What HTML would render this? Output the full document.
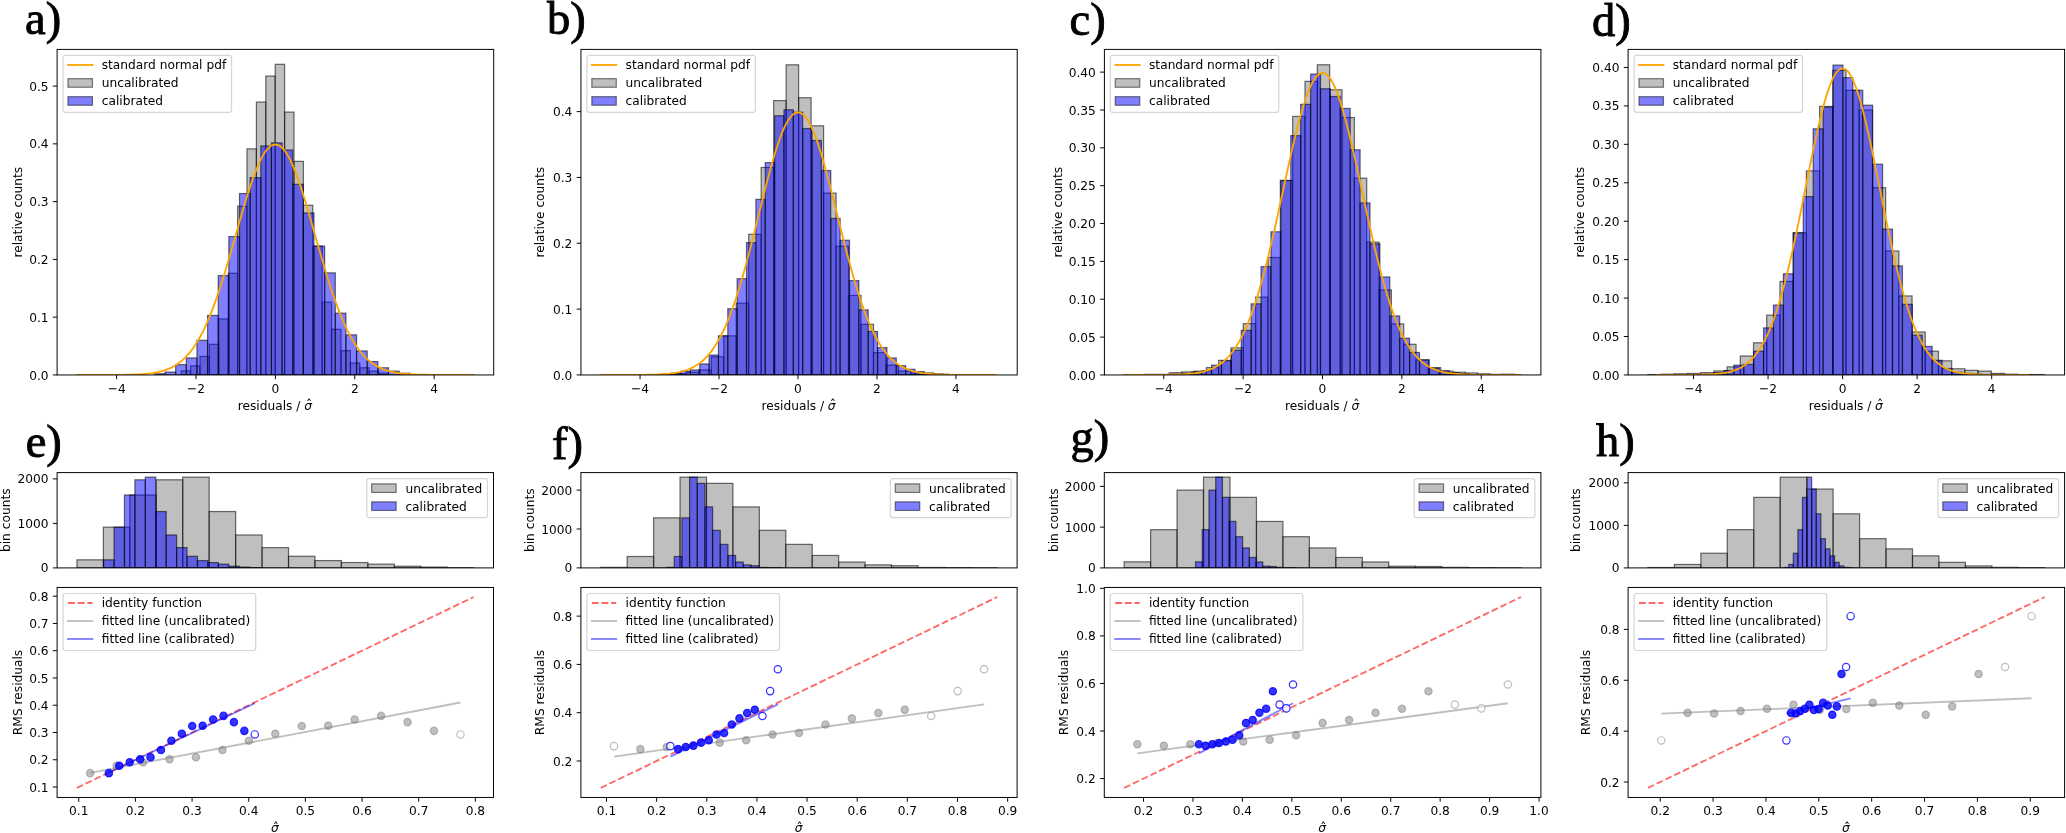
<!DOCTYPE html>
<html lang="en"><head><meta charset="utf-8"><title>Calibration figure</title>
<style>html,body{margin:0;padding:0;background:#fff}svg{display:block;filter:blur(0.55px)}text{font-family:"DejaVu Sans", "Liberation Sans", sans-serif;fill:#000}.ser{font-family:"Liberation Serif", "DejaVu Serif", serif;stroke:#000;stroke-width:0.9px}</style>
</head><body>
<svg width="2066" height="833" viewBox="0 0 2066 833">
<rect width="2066" height="833" fill="#fff"/>
<g id="top0">
<clipPath id="ct0"><rect x="57.1" y="49.4" width="436.6" height="325.55"/></clipPath>
<g clip-path="url(#ct0)">
<g fill="#808080" fill-opacity="0.5" stroke="#000" stroke-opacity="0.56" stroke-width="1.22">
<rect x="181.2" y="370.91" width="9.4" height="4.04"/>
<rect x="190.6" y="365.88" width="9.4" height="9.07"/>
<rect x="200" y="356.46" width="9.4" height="18.49"/>
<rect x="209.4" y="344.33" width="9.4" height="30.62"/>
<rect x="218.8" y="318.91" width="9.4" height="56.04"/>
<rect x="228.2" y="273.27" width="9.4" height="101.68"/>
<rect x="237.6" y="206.25" width="9.4" height="168.7"/>
<rect x="247" y="148.88" width="9.4" height="226.07"/>
<rect x="256.4" y="102.03" width="9.4" height="272.92"/>
<rect x="265.8" y="76.09" width="9.4" height="298.86"/>
<rect x="275.2" y="64.31" width="9.4" height="310.64"/>
<rect x="284.6" y="112.08" width="9.4" height="262.87"/>
<rect x="294" y="161.36" width="9.4" height="213.59"/>
<rect x="303.4" y="205.27" width="9.4" height="169.68"/>
<rect x="312.8" y="246.12" width="9.4" height="128.83"/>
<rect x="322.2" y="302.16" width="9.4" height="72.79"/>
<rect x="331.6" y="329.31" width="9.4" height="45.64"/>
<rect x="341" y="350.69" width="9.4" height="24.26"/>
<rect x="350.4" y="362.99" width="9.4" height="11.96"/>
<rect x="359.8" y="367.79" width="9.4" height="7.16"/>
<rect x="369.2" y="371.14" width="9.4" height="3.81"/>
<rect x="378.6" y="373.22" width="9.4" height="1.73"/>
</g>
<g fill="#0000ff" fill-opacity="0.5" stroke="#000" stroke-opacity="0.56" stroke-width="1.22">
<rect x="154.4" y="373.79" width="10.64" height="1.16"/>
<rect x="165.04" y="372.06" width="10.64" height="2.89"/>
<rect x="175.68" y="364.67" width="10.64" height="10.28"/>
<rect x="186.32" y="357.96" width="10.64" height="16.99"/>
<rect x="196.96" y="340.29" width="10.64" height="34.66"/>
<rect x="207.6" y="315.44" width="10.64" height="59.51"/>
<rect x="218.24" y="275.58" width="10.64" height="99.37"/>
<rect x="228.88" y="236.58" width="10.64" height="138.37"/>
<rect x="239.52" y="193.54" width="10.64" height="181.41"/>
<rect x="250.16" y="177.66" width="10.64" height="197.29"/>
<rect x="260.8" y="146" width="10.64" height="228.95"/>
<rect x="271.44" y="142.88" width="10.64" height="232.07"/>
<rect x="282.08" y="150.04" width="10.64" height="224.91"/>
<rect x="292.72" y="184.36" width="10.64" height="190.59"/>
<rect x="303.36" y="212.95" width="10.64" height="162"/>
<rect x="314" y="246.12" width="10.64" height="128.83"/>
<rect x="324.64" y="272.87" width="10.64" height="102.08"/>
<rect x="335.28" y="313.13" width="10.64" height="61.82"/>
<rect x="345.92" y="334.86" width="10.64" height="40.09"/>
<rect x="356.56" y="350.97" width="10.64" height="23.98"/>
<rect x="367.2" y="361.55" width="10.64" height="13.4"/>
<rect x="377.84" y="367.79" width="10.64" height="7.16"/>
<rect x="388.48" y="371.14" width="10.64" height="3.81"/>
<rect x="399.12" y="373.22" width="10.64" height="1.73"/>
</g>
<path d="M76.95 374.95 L78.93 374.95 L80.91 374.95 L82.9 374.95 L84.88 374.95 L86.87 374.95 L88.85 374.95 L90.84 374.95 L92.82 374.94 L94.81 374.94 L96.79 374.94 L98.78 374.94 L100.76 374.94 L102.74 374.93 L104.73 374.93 L106.71 374.92 L108.7 374.92 L110.68 374.91 L112.67 374.9 L114.65 374.89 L116.64 374.87 L118.62 374.86 L120.61 374.84 L122.59 374.81 L124.57 374.78 L126.56 374.75 L128.54 374.7 L130.53 374.66 L132.51 374.6 L134.5 374.53 L136.48 374.45 L138.47 374.35 L140.45 374.24 L142.44 374.11 L144.42 373.95 L146.4 373.78 L148.39 373.57 L150.37 373.34 L152.36 373.06 L154.34 372.75 L156.33 372.39 L158.31 371.98 L160.3 371.51 L162.28 370.98 L164.27 370.38 L166.25 369.7 L168.23 368.93 L170.22 368.07 L172.2 367.1 L174.19 366.02 L176.17 364.82 L178.16 363.49 L180.14 362.01 L182.13 360.38 L184.11 358.58 L186.1 356.61 L188.08 354.46 L190.06 352.1 L192.05 349.54 L194.03 346.76 L196.02 343.76 L198 340.52 L199.99 337.04 L201.97 333.32 L203.96 329.34 L205.94 325.11 L207.93 320.62 L209.91 315.87 L211.89 310.87 L213.88 305.62 L215.86 300.12 L217.85 294.4 L219.83 288.45 L221.82 282.29 L223.8 275.95 L225.79 269.43 L227.77 262.76 L229.76 255.97 L231.74 249.09 L233.72 242.14 L235.71 235.16 L237.69 228.17 L239.68 221.22 L241.66 214.35 L243.65 207.59 L245.63 200.97 L247.62 194.55 L249.6 188.36 L251.59 182.44 L253.57 176.82 L255.55 171.55 L257.54 166.66 L259.52 162.19 L261.51 158.16 L263.49 154.61 L265.48 151.56 L267.46 149.03 L269.45 147.05 L271.43 145.62 L273.42 144.76 L275.4 144.47 L277.38 144.76 L279.37 145.62 L281.35 147.05 L283.34 149.03 L285.32 151.56 L287.31 154.61 L289.29 158.16 L291.28 162.19 L293.26 166.66 L295.25 171.55 L297.23 176.82 L299.21 182.44 L301.2 188.36 L303.18 194.55 L305.17 200.97 L307.15 207.59 L309.14 214.35 L311.12 221.22 L313.11 228.17 L315.09 235.16 L317.08 242.14 L319.06 249.09 L321.04 255.97 L323.03 262.76 L325.01 269.43 L327 275.95 L328.98 282.29 L330.97 288.45 L332.95 294.4 L334.94 300.12 L336.92 305.62 L338.91 310.87 L340.89 315.87 L342.87 320.62 L344.86 325.11 L346.84 329.34 L348.83 333.32 L350.81 337.04 L352.8 340.52 L354.78 343.76 L356.77 346.76 L358.75 349.54 L360.74 352.1 L362.72 354.46 L364.7 356.61 L366.69 358.58 L368.67 360.38 L370.66 362.01 L372.64 363.49 L374.63 364.82 L376.61 366.02 L378.6 367.1 L380.58 368.07 L382.57 368.93 L384.55 369.7 L386.53 370.38 L388.52 370.98 L390.5 371.51 L392.49 371.98 L394.47 372.39 L396.46 372.75 L398.44 373.06 L400.43 373.34 L402.41 373.57 L404.4 373.78 L406.38 373.95 L408.36 374.11 L410.35 374.24 L412.33 374.35 L414.32 374.45 L416.3 374.53 L418.29 374.6 L420.27 374.66 L422.26 374.7 L424.24 374.75 L426.23 374.78 L428.21 374.81 L430.19 374.84 L432.18 374.86 L434.16 374.87 L436.15 374.89 L438.13 374.9 L440.12 374.91 L442.1 374.92 L444.09 374.92 L446.07 374.93 L448.06 374.93 L450.04 374.94 L452.02 374.94 L454.01 374.94 L455.99 374.94 L457.98 374.94 L459.96 374.95 L461.95 374.95 L463.93 374.95 L465.92 374.95 L467.9 374.95 L469.89 374.95 L471.87 374.95 L473.85 374.95" fill="none" stroke="#ffa500" stroke-width="1.83" stroke-linejoin="round" stroke-linecap="square"/>
</g>
<rect x="57.1" y="49.4" width="436.6" height="325.55" fill="none" stroke="#000" stroke-width="0.98"/>
<text transform="translate(116.64 392.79) scale(1 1.05)" font-size="12.22" text-anchor="middle">−4</text>
<text transform="translate(196.02 392.79) scale(1 1.05)" font-size="12.22" text-anchor="middle">−2</text>
<text transform="translate(275.4 392.79) scale(1 1.05)" font-size="12.22" text-anchor="middle">0</text>
<text transform="translate(354.78 392.79) scale(1 1.05)" font-size="12.22" text-anchor="middle">2</text>
<text transform="translate(434.16 392.79) scale(1 1.05)" font-size="12.22" text-anchor="middle">4</text>
<path d="M116.64 374.95v4.28M196.02 374.95v4.28M275.4 374.95v4.28M354.78 374.95v4.28M434.16 374.95v4.28" stroke="#000" stroke-width="0.98" fill="none"/>
<text transform="translate(48.54 379.53) scale(1 1.05)" font-size="12.22" text-anchor="end">0.0</text>
<text transform="translate(48.54 321.76) scale(1 1.05)" font-size="12.22" text-anchor="end">0.1</text>
<text transform="translate(48.54 263.99) scale(1 1.05)" font-size="12.22" text-anchor="end">0.2</text>
<text transform="translate(48.54 206.21) scale(1 1.05)" font-size="12.22" text-anchor="end">0.3</text>
<text transform="translate(48.54 148.44) scale(1 1.05)" font-size="12.22" text-anchor="end">0.4</text>
<text transform="translate(48.54 90.67) scale(1 1.05)" font-size="12.22" text-anchor="end">0.5</text>
<path d="M57.1 374.95h-4.28M57.1 317.18h-4.28M57.1 259.4h-4.28M57.1 201.63h-4.28M57.1 143.86h-4.28M57.1 86.09h-4.28" stroke="#000" stroke-width="0.98" fill="none"/>
<text transform="translate(237.75 410.1) scale(1 1.05)" font-size="12.22" text-anchor="start">residuals / </text>
<text transform="translate(304.15 410.1) scale(1 1.05)" font-size="12.22" font-style="italic">σ</text>
<text transform="translate(309.04 409.37) scale(1 1.05)" font-size="12.22" text-anchor="middle">ˆ</text>
<text transform="translate(21.5 212.17) rotate(-90) scale(1 1.05)" font-size="12.22" text-anchor="middle">relative counts</text>
<rect x="63.1" y="55.45" width="168.4" height="57" rx="2.4" fill="#fff" fill-opacity="0.8" stroke="#ccc" stroke-opacity="0.8" stroke-width="1.22"/>
<path d="M67.99 64.95h24.44" stroke="#ffa500" stroke-opacity="1" stroke-width="1.83" stroke-linecap="square" fill="none"/>
<text transform="translate(101.71 69.35) scale(1 1.05)" font-size="12.22" text-anchor="start">standard normal pdf</text>
<rect x="67.99" y="78.67" width="24.44" height="8.56" fill="#808080" fill-opacity="0.5" stroke="#000" stroke-opacity="0.5" stroke-width="1.22"/>
<text transform="translate(101.71 87.35) scale(1 1.05)" font-size="12.22" text-anchor="start">uncalibrated</text>
<rect x="67.99" y="96.67" width="24.44" height="8.56" fill="#0000ff" fill-opacity="0.5" stroke="#000" stroke-opacity="0.5" stroke-width="1.22"/>
<text transform="translate(101.71 105.35) scale(1 1.05)" font-size="12.22" text-anchor="start">calibrated</text>
<text x="25" y="33.7" font-size="46.5" text-anchor="start" class="ser">a)</text>
</g>
<g id="top1">
<clipPath id="ct1"><rect x="580.95" y="49.4" width="436.25" height="325.55"/></clipPath>
<g clip-path="url(#ct1)">
<g fill="#808080" fill-opacity="0.5" stroke="#000" stroke-opacity="0.56" stroke-width="1.22">
<rect x="661.34" y="374.29" width="12.48" height="0.66"/>
<rect x="673.82" y="373.63" width="12.48" height="1.32"/>
<rect x="686.3" y="372.32" width="12.48" height="2.63"/>
<rect x="698.78" y="369.95" width="12.48" height="5"/>
<rect x="711.26" y="356.78" width="12.48" height="18.17"/>
<rect x="723.74" y="335.84" width="12.48" height="39.11"/>
<rect x="736.22" y="303.19" width="12.48" height="71.76"/>
<rect x="748.7" y="234.26" width="12.48" height="140.69"/>
<rect x="761.18" y="167.44" width="12.48" height="207.51"/>
<rect x="773.66" y="100.62" width="12.48" height="274.33"/>
<rect x="786.14" y="64.81" width="12.48" height="310.14"/>
<rect x="798.62" y="97.72" width="12.48" height="277.23"/>
<rect x="811.1" y="125.83" width="12.48" height="249.12"/>
<rect x="823.58" y="193.12" width="12.48" height="181.83"/>
<rect x="836.06" y="246.24" width="12.48" height="128.71"/>
<rect x="848.54" y="295.49" width="12.48" height="79.46"/>
<rect x="861.02" y="324.32" width="12.48" height="50.63"/>
<rect x="873.5" y="352.7" width="12.48" height="22.25"/>
<rect x="885.98" y="365.14" width="12.48" height="9.81"/>
<rect x="898.46" y="371.2" width="12.48" height="3.75"/>
<rect x="910.94" y="372.97" width="12.48" height="1.98"/>
<rect x="923.42" y="373.63" width="12.48" height="1.32"/>
<rect x="935.9" y="374.29" width="12.48" height="0.66"/>
</g>
<g fill="#0000ff" fill-opacity="0.5" stroke="#000" stroke-opacity="0.56" stroke-width="1.22">
<rect x="662.28" y="374.29" width="9.36" height="0.66"/>
<rect x="671.64" y="372.97" width="9.36" height="1.98"/>
<rect x="681" y="371.2" width="9.36" height="3.75"/>
<rect x="690.36" y="369.95" width="9.36" height="5"/>
<rect x="699.72" y="363.96" width="9.36" height="10.99"/>
<rect x="709.08" y="355.07" width="9.36" height="19.88"/>
<rect x="718.44" y="335.84" width="9.36" height="39.11"/>
<rect x="727.8" y="308.72" width="9.36" height="66.23"/>
<rect x="737.16" y="278.7" width="9.36" height="96.25"/>
<rect x="746.52" y="242.62" width="9.36" height="132.33"/>
<rect x="755.88" y="199.37" width="9.36" height="175.58"/>
<rect x="765.24" y="162.63" width="9.36" height="212.32"/>
<rect x="774.6" y="115.76" width="9.36" height="259.19"/>
<rect x="783.96" y="109.77" width="9.36" height="265.18"/>
<rect x="793.32" y="112.14" width="9.36" height="262.81"/>
<rect x="802.68" y="128.53" width="9.36" height="246.42"/>
<rect x="812.04" y="140.51" width="9.36" height="234.44"/>
<rect x="821.4" y="170.53" width="9.36" height="204.42"/>
<rect x="830.76" y="218.46" width="9.36" height="156.49"/>
<rect x="840.12" y="240.25" width="9.36" height="134.7"/>
<rect x="849.48" y="280.61" width="9.36" height="94.34"/>
<rect x="858.84" y="309.91" width="9.36" height="65.04"/>
<rect x="868.2" y="331.5" width="9.36" height="43.45"/>
<rect x="877.56" y="347.63" width="9.36" height="27.32"/>
<rect x="886.92" y="357.96" width="9.36" height="16.99"/>
<rect x="896.28" y="365.67" width="9.36" height="9.28"/>
<rect x="905.64" y="369.29" width="9.36" height="5.66"/>
<rect x="915" y="371.66" width="9.36" height="3.29"/>
<rect x="924.36" y="372.97" width="9.36" height="1.98"/>
<rect x="933.72" y="373.96" width="9.36" height="0.99"/>
</g>
<path d="M600.57 374.95 L602.54 374.95 L604.51 374.95 L606.49 374.95 L608.46 374.95 L610.44 374.95 L612.41 374.95 L614.38 374.94 L616.36 374.94 L618.33 374.94 L620.31 374.94 L622.28 374.94 L624.26 374.93 L626.23 374.93 L628.2 374.92 L630.18 374.92 L632.15 374.91 L634.13 374.9 L636.1 374.89 L638.08 374.88 L640.05 374.86 L642.02 374.84 L644 374.82 L645.97 374.79 L647.95 374.76 L649.92 374.72 L651.9 374.67 L653.87 374.61 L655.84 374.55 L657.82 374.47 L659.79 374.38 L661.77 374.27 L663.74 374.14 L665.72 373.99 L667.69 373.82 L669.66 373.61 L671.64 373.38 L673.61 373.11 L675.59 372.8 L677.56 372.44 L679.53 372.03 L681.51 371.56 L683.48 371.03 L685.46 370.43 L687.43 369.74 L689.41 368.96 L691.38 368.09 L693.35 367.11 L695.33 366.01 L697.3 364.78 L699.28 363.41 L701.25 361.89 L703.23 360.21 L705.2 358.35 L707.17 356.3 L709.15 354.05 L711.12 351.6 L713.1 348.91 L715.07 345.99 L717.05 342.83 L719.02 339.41 L720.99 335.72 L722.97 331.75 L724.94 327.51 L726.92 322.97 L728.89 318.15 L730.87 313.03 L732.84 307.62 L734.81 301.93 L736.79 295.94 L738.76 289.68 L740.74 283.16 L742.71 276.38 L744.69 269.36 L746.66 262.13 L748.63 254.7 L750.61 247.11 L752.58 239.37 L754.56 231.53 L756.53 223.61 L758.5 215.65 L760.48 207.69 L762.45 199.77 L764.43 191.94 L766.4 184.23 L768.38 176.7 L770.35 169.38 L772.32 162.32 L774.3 155.57 L776.27 149.18 L778.25 143.17 L780.22 137.6 L782.2 132.5 L784.17 127.91 L786.14 123.87 L788.12 120.39 L790.09 117.51 L792.07 115.25 L794.04 113.62 L796.02 112.64 L797.99 112.31 L799.96 112.64 L801.94 113.62 L803.91 115.25 L805.89 117.51 L807.86 120.39 L809.84 123.87 L811.81 127.91 L813.78 132.5 L815.76 137.6 L817.73 143.17 L819.71 149.18 L821.68 155.57 L823.66 162.32 L825.63 169.38 L827.6 176.7 L829.58 184.23 L831.55 191.94 L833.53 199.77 L835.5 207.69 L837.47 215.65 L839.45 223.61 L841.42 231.53 L843.4 239.37 L845.37 247.11 L847.35 254.7 L849.32 262.13 L851.29 269.36 L853.27 276.38 L855.24 283.16 L857.22 289.68 L859.19 295.94 L861.17 301.93 L863.14 307.62 L865.11 313.03 L867.09 318.15 L869.06 322.97 L871.04 327.51 L873.01 331.75 L874.99 335.72 L876.96 339.41 L878.93 342.83 L880.91 345.99 L882.88 348.91 L884.86 351.6 L886.83 354.05 L888.81 356.3 L890.78 358.35 L892.75 360.21 L894.73 361.89 L896.7 363.41 L898.68 364.78 L900.65 366.01 L902.63 367.11 L904.6 368.09 L906.57 368.96 L908.55 369.74 L910.52 370.43 L912.5 371.03 L914.47 371.56 L916.44 372.03 L918.42 372.44 L920.39 372.8 L922.37 373.11 L924.34 373.38 L926.32 373.61 L928.29 373.82 L930.26 373.99 L932.24 374.14 L934.21 374.27 L936.19 374.38 L938.16 374.47 L940.14 374.55 L942.11 374.61 L944.08 374.67 L946.06 374.72 L948.03 374.76 L950.01 374.79 L951.98 374.82 L953.96 374.84 L955.93 374.86 L957.9 374.88 L959.88 374.89 L961.85 374.9 L963.83 374.91 L965.8 374.92 L967.78 374.92 L969.75 374.93 L971.72 374.93 L973.7 374.94 L975.67 374.94 L977.65 374.94 L979.62 374.94 L981.6 374.94 L983.57 374.95 L985.54 374.95 L987.52 374.95 L989.49 374.95 L991.47 374.95 L993.44 374.95 L995.41 374.95" fill="none" stroke="#ffa500" stroke-width="1.83" stroke-linejoin="round" stroke-linecap="square"/>
</g>
<rect x="580.95" y="49.4" width="436.25" height="325.55" fill="none" stroke="#000" stroke-width="0.98"/>
<text transform="translate(640.05 392.79) scale(1 1.05)" font-size="12.22" text-anchor="middle">−4</text>
<text transform="translate(719.02 392.79) scale(1 1.05)" font-size="12.22" text-anchor="middle">−2</text>
<text transform="translate(797.99 392.79) scale(1 1.05)" font-size="12.22" text-anchor="middle">0</text>
<text transform="translate(876.96 392.79) scale(1 1.05)" font-size="12.22" text-anchor="middle">2</text>
<text transform="translate(955.93 392.79) scale(1 1.05)" font-size="12.22" text-anchor="middle">4</text>
<path d="M640.05 374.95v4.28M719.02 374.95v4.28M797.99 374.95v4.28M876.96 374.95v4.28M955.93 374.95v4.28" stroke="#000" stroke-width="0.98" fill="none"/>
<text transform="translate(572.39 379.53) scale(1 1.05)" font-size="12.22" text-anchor="end">0.0</text>
<text transform="translate(572.39 313.7) scale(1 1.05)" font-size="12.22" text-anchor="end">0.1</text>
<text transform="translate(572.39 247.86) scale(1 1.05)" font-size="12.22" text-anchor="end">0.2</text>
<text transform="translate(572.39 182.03) scale(1 1.05)" font-size="12.22" text-anchor="end">0.3</text>
<text transform="translate(572.39 116.2) scale(1 1.05)" font-size="12.22" text-anchor="end">0.4</text>
<path d="M580.95 374.95h-4.28M580.95 309.12h-4.28M580.95 243.28h-4.28M580.95 177.45h-4.28M580.95 111.61h-4.28" stroke="#000" stroke-width="0.98" fill="none"/>
<text transform="translate(761.43 410.1) scale(1 1.05)" font-size="12.22" text-anchor="start">residuals / </text>
<text transform="translate(827.83 410.1) scale(1 1.05)" font-size="12.22" font-style="italic">σ</text>
<text transform="translate(832.71 409.37) scale(1 1.05)" font-size="12.22" text-anchor="middle">ˆ</text>
<text transform="translate(544 212.17) rotate(-90) scale(1 1.05)" font-size="12.22" text-anchor="middle">relative counts</text>
<rect x="586.95" y="55.45" width="168.4" height="57" rx="2.4" fill="#fff" fill-opacity="0.8" stroke="#ccc" stroke-opacity="0.8" stroke-width="1.22"/>
<path d="M591.84 64.95h24.44" stroke="#ffa500" stroke-opacity="1" stroke-width="1.83" stroke-linecap="square" fill="none"/>
<text transform="translate(625.56 69.35) scale(1 1.05)" font-size="12.22" text-anchor="start">standard normal pdf</text>
<rect x="591.84" y="78.67" width="24.44" height="8.56" fill="#808080" fill-opacity="0.5" stroke="#000" stroke-opacity="0.5" stroke-width="1.22"/>
<text transform="translate(625.56 87.35) scale(1 1.05)" font-size="12.22" text-anchor="start">uncalibrated</text>
<rect x="591.84" y="96.67" width="24.44" height="8.56" fill="#0000ff" fill-opacity="0.5" stroke="#000" stroke-opacity="0.5" stroke-width="1.22"/>
<text transform="translate(625.56 105.35) scale(1 1.05)" font-size="12.22" text-anchor="start">calibrated</text>
<text x="547" y="33.8" font-size="46.5" text-anchor="start" class="ser">b)</text>
</g>
<g id="top2">
<clipPath id="ct2"><rect x="1104.4" y="49.4" width="436.5" height="325.55"/></clipPath>
<g clip-path="url(#ct2)">
<g fill="#808080" fill-opacity="0.5" stroke="#000" stroke-opacity="0.56" stroke-width="1.22">
<rect x="1144.58" y="374.34" width="12.34" height="0.61"/>
<rect x="1156.92" y="374.34" width="12.34" height="0.61"/>
<rect x="1169.26" y="372.68" width="12.34" height="2.27"/>
<rect x="1181.6" y="371.92" width="12.34" height="3.03"/>
<rect x="1193.94" y="371.16" width="12.34" height="3.79"/>
<rect x="1206.28" y="367.61" width="12.34" height="7.34"/>
<rect x="1218.62" y="360.34" width="12.34" height="14.61"/>
<rect x="1230.96" y="347.85" width="12.34" height="27.1"/>
<rect x="1243.3" y="323.62" width="12.34" height="51.33"/>
<rect x="1255.64" y="297.12" width="12.34" height="77.83"/>
<rect x="1267.98" y="257.52" width="12.34" height="117.43"/>
<rect x="1280.32" y="180.38" width="12.34" height="194.57"/>
<rect x="1292.66" y="116.4" width="12.34" height="258.55"/>
<rect x="1305" y="81.35" width="12.34" height="293.6"/>
<rect x="1317.34" y="64.77" width="12.34" height="310.18"/>
<rect x="1329.68" y="89.75" width="12.34" height="285.2"/>
<rect x="1342.02" y="117.54" width="12.34" height="257.41"/>
<rect x="1354.36" y="178.18" width="12.34" height="196.77"/>
<rect x="1366.7" y="242.08" width="12.34" height="132.87"/>
<rect x="1379.04" y="289.93" width="12.34" height="85.02"/>
<rect x="1391.38" y="323.85" width="12.34" height="51.1"/>
<rect x="1403.72" y="344.29" width="12.34" height="30.66"/>
<rect x="1416.06" y="359.88" width="12.34" height="15.07"/>
<rect x="1428.4" y="367.61" width="12.34" height="7.34"/>
<rect x="1440.74" y="371.16" width="12.34" height="3.79"/>
<rect x="1453.08" y="372.22" width="12.34" height="2.73"/>
<rect x="1465.42" y="372.98" width="12.34" height="1.97"/>
<rect x="1477.76" y="373.81" width="12.34" height="1.14"/>
<rect x="1490.1" y="374.34" width="12.34" height="0.61"/>
<rect x="1502.44" y="374.19" width="12.34" height="0.76"/>
</g>
<g fill="#0000ff" fill-opacity="0.5" stroke="#000" stroke-opacity="0.56" stroke-width="1.22">
<rect x="1171.98" y="374.19" width="9.9" height="0.76"/>
<rect x="1181.88" y="373.44" width="9.9" height="1.51"/>
<rect x="1191.78" y="371.92" width="9.9" height="3.03"/>
<rect x="1201.68" y="370.79" width="9.9" height="4.16"/>
<rect x="1211.58" y="365.18" width="9.9" height="9.77"/>
<rect x="1221.48" y="360.87" width="9.9" height="14.08"/>
<rect x="1231.38" y="350.27" width="9.9" height="24.68"/>
<rect x="1241.28" y="330.36" width="9.9" height="44.59"/>
<rect x="1251.18" y="303.86" width="9.9" height="71.09"/>
<rect x="1261.08" y="266.61" width="9.9" height="108.34"/>
<rect x="1270.98" y="231.78" width="9.9" height="143.17"/>
<rect x="1280.88" y="180.6" width="9.9" height="194.35"/>
<rect x="1290.78" y="135.63" width="9.9" height="239.32"/>
<rect x="1300.68" y="104.36" width="9.9" height="270.59"/>
<rect x="1310.58" y="74.08" width="9.9" height="300.87"/>
<rect x="1320.48" y="88.77" width="9.9" height="286.18"/>
<rect x="1330.38" y="96.49" width="9.9" height="278.46"/>
<rect x="1340.28" y="108.45" width="9.9" height="266.5"/>
<rect x="1350.18" y="149.79" width="9.9" height="225.16"/>
<rect x="1360.08" y="202.94" width="9.9" height="172.01"/>
<rect x="1369.98" y="243.82" width="9.9" height="131.13"/>
<rect x="1379.88" y="276.98" width="9.9" height="97.97"/>
<rect x="1389.78" y="315.9" width="9.9" height="59.05"/>
<rect x="1399.68" y="338.23" width="9.9" height="36.72"/>
<rect x="1409.58" y="352.46" width="9.9" height="22.49"/>
<rect x="1419.48" y="359.88" width="9.9" height="15.07"/>
<rect x="1429.38" y="368.29" width="9.9" height="6.66"/>
<rect x="1439.28" y="370.71" width="9.9" height="4.24"/>
<rect x="1449.18" y="372.68" width="9.9" height="2.27"/>
<rect x="1459.08" y="373.81" width="9.9" height="1.14"/>
</g>
<path d="M1124.05 374.95 L1126.03 374.95 L1128.02 374.95 L1130 374.95 L1131.99 374.95 L1133.97 374.95 L1135.96 374.95 L1137.94 374.94 L1139.93 374.94 L1141.91 374.94 L1143.89 374.94 L1145.88 374.93 L1147.86 374.93 L1149.85 374.93 L1151.83 374.92 L1153.82 374.91 L1155.8 374.91 L1157.79 374.9 L1159.77 374.88 L1161.76 374.87 L1163.74 374.85 L1165.72 374.83 L1167.71 374.8 L1169.69 374.77 L1171.68 374.73 L1173.66 374.68 L1175.65 374.63 L1177.63 374.56 L1179.62 374.49 L1181.6 374.4 L1183.59 374.29 L1185.57 374.16 L1187.55 374.02 L1189.54 373.85 L1191.52 373.65 L1193.51 373.41 L1195.49 373.15 L1197.48 372.83 L1199.46 372.48 L1201.45 372.07 L1203.43 371.59 L1205.41 371.06 L1207.4 370.44 L1209.38 369.75 L1211.37 368.96 L1213.35 368.07 L1215.34 367.06 L1217.32 365.93 L1219.31 364.67 L1221.29 363.25 L1223.28 361.68 L1225.26 359.93 L1227.24 358 L1229.23 355.86 L1231.21 353.5 L1233.2 350.92 L1235.18 348.09 L1237.17 345.01 L1239.15 341.65 L1241.14 338.01 L1243.12 334.07 L1245.1 329.83 L1247.09 325.27 L1249.07 320.39 L1251.06 315.18 L1253.04 309.63 L1255.03 303.75 L1257.01 297.53 L1259 290.97 L1260.98 284.09 L1262.96 276.89 L1264.95 269.39 L1266.93 261.59 L1268.92 253.52 L1270.9 245.21 L1272.89 236.67 L1274.87 227.93 L1276.86 219.04 L1278.84 210.02 L1280.83 200.91 L1282.81 191.76 L1284.79 182.6 L1286.78 173.5 L1288.76 164.49 L1290.75 155.63 L1292.73 146.96 L1294.72 138.54 L1296.7 130.43 L1298.69 122.67 L1300.67 115.31 L1302.65 108.4 L1304.64 102 L1306.62 96.14 L1308.61 90.86 L1310.59 86.2 L1312.58 82.21 L1314.56 78.89 L1316.55 76.29 L1318.53 74.42 L1320.52 73.29 L1322.5 72.91 L1324.48 73.29 L1326.47 74.42 L1328.45 76.29 L1330.44 78.89 L1332.42 82.21 L1334.41 86.2 L1336.39 90.86 L1338.38 96.14 L1340.36 102 L1342.35 108.4 L1344.33 115.31 L1346.31 122.67 L1348.3 130.43 L1350.28 138.54 L1352.27 146.96 L1354.25 155.63 L1356.24 164.49 L1358.22 173.5 L1360.21 182.6 L1362.19 191.76 L1364.17 200.91 L1366.16 210.02 L1368.14 219.04 L1370.13 227.93 L1372.11 236.67 L1374.1 245.21 L1376.08 253.52 L1378.07 261.59 L1380.05 269.39 L1382.04 276.89 L1384.02 284.09 L1386 290.97 L1387.99 297.53 L1389.97 303.75 L1391.96 309.63 L1393.94 315.18 L1395.93 320.39 L1397.91 325.27 L1399.9 329.83 L1401.88 334.07 L1403.86 338.01 L1405.85 341.65 L1407.83 345.01 L1409.82 348.09 L1411.8 350.92 L1413.79 353.5 L1415.77 355.86 L1417.76 358 L1419.74 359.93 L1421.72 361.68 L1423.71 363.25 L1425.69 364.67 L1427.68 365.93 L1429.66 367.06 L1431.65 368.07 L1433.63 368.96 L1435.62 369.75 L1437.6 370.44 L1439.59 371.06 L1441.57 371.59 L1443.55 372.07 L1445.54 372.48 L1447.52 372.83 L1449.51 373.15 L1451.49 373.41 L1453.48 373.65 L1455.46 373.85 L1457.45 374.02 L1459.43 374.16 L1461.41 374.29 L1463.4 374.4 L1465.38 374.49 L1467.37 374.56 L1469.35 374.63 L1471.34 374.68 L1473.32 374.73 L1475.31 374.77 L1477.29 374.8 L1479.28 374.83 L1481.26 374.85 L1483.24 374.87 L1485.23 374.88 L1487.21 374.9 L1489.2 374.91 L1491.18 374.91 L1493.17 374.92 L1495.15 374.93 L1497.14 374.93 L1499.12 374.93 L1501.11 374.94 L1503.09 374.94 L1505.07 374.94 L1507.06 374.94 L1509.04 374.95 L1511.03 374.95 L1513.01 374.95 L1515 374.95 L1516.98 374.95 L1518.97 374.95 L1520.95 374.95" fill="none" stroke="#ffa500" stroke-width="1.83" stroke-linejoin="round" stroke-linecap="square"/>
</g>
<rect x="1104.4" y="49.4" width="436.5" height="325.55" fill="none" stroke="#000" stroke-width="0.98"/>
<text transform="translate(1163.74 392.79) scale(1 1.05)" font-size="12.22" text-anchor="middle">−4</text>
<text transform="translate(1243.12 392.79) scale(1 1.05)" font-size="12.22" text-anchor="middle">−2</text>
<text transform="translate(1322.5 392.79) scale(1 1.05)" font-size="12.22" text-anchor="middle">0</text>
<text transform="translate(1401.88 392.79) scale(1 1.05)" font-size="12.22" text-anchor="middle">2</text>
<text transform="translate(1481.26 392.79) scale(1 1.05)" font-size="12.22" text-anchor="middle">4</text>
<path d="M1163.74 374.95v4.28M1243.12 374.95v4.28M1322.5 374.95v4.28M1401.88 374.95v4.28M1481.26 374.95v4.28" stroke="#000" stroke-width="0.98" fill="none"/>
<text transform="translate(1095.84 379.53) scale(1 1.05)" font-size="12.22" text-anchor="end">0.00</text>
<text transform="translate(1095.84 341.68) scale(1 1.05)" font-size="12.22" text-anchor="end">0.05</text>
<text transform="translate(1095.84 303.82) scale(1 1.05)" font-size="12.22" text-anchor="end">0.10</text>
<text transform="translate(1095.84 265.97) scale(1 1.05)" font-size="12.22" text-anchor="end">0.15</text>
<text transform="translate(1095.84 228.11) scale(1 1.05)" font-size="12.22" text-anchor="end">0.20</text>
<text transform="translate(1095.84 190.26) scale(1 1.05)" font-size="12.22" text-anchor="end">0.25</text>
<text transform="translate(1095.84 152.41) scale(1 1.05)" font-size="12.22" text-anchor="end">0.30</text>
<text transform="translate(1095.84 114.55) scale(1 1.05)" font-size="12.22" text-anchor="end">0.35</text>
<text transform="translate(1095.84 76.7) scale(1 1.05)" font-size="12.22" text-anchor="end">0.40</text>
<path d="M1104.4 374.95h-4.28M1104.4 337.1h-4.28M1104.4 299.24h-4.28M1104.4 261.39h-4.28M1104.4 223.53h-4.28M1104.4 185.68h-4.28M1104.4 147.82h-4.28M1104.4 109.97h-4.28M1104.4 72.11h-4.28" stroke="#000" stroke-width="0.98" fill="none"/>
<text transform="translate(1285 410.1) scale(1 1.05)" font-size="12.22" text-anchor="start">residuals / </text>
<text transform="translate(1351.4 410.1) scale(1 1.05)" font-size="12.22" font-style="italic">σ</text>
<text transform="translate(1356.29 409.37) scale(1 1.05)" font-size="12.22" text-anchor="middle">ˆ</text>
<text transform="translate(1061.5 212.17) rotate(-90) scale(1 1.05)" font-size="12.22" text-anchor="middle">relative counts</text>
<rect x="1110.4" y="55.45" width="168.4" height="57" rx="2.4" fill="#fff" fill-opacity="0.8" stroke="#ccc" stroke-opacity="0.8" stroke-width="1.22"/>
<path d="M1115.29 64.95h24.44" stroke="#ffa500" stroke-opacity="1" stroke-width="1.83" stroke-linecap="square" fill="none"/>
<text transform="translate(1149.01 69.35) scale(1 1.05)" font-size="12.22" text-anchor="start">standard normal pdf</text>
<rect x="1115.29" y="78.67" width="24.44" height="8.56" fill="#808080" fill-opacity="0.5" stroke="#000" stroke-opacity="0.5" stroke-width="1.22"/>
<text transform="translate(1149.01 87.35) scale(1 1.05)" font-size="12.22" text-anchor="start">uncalibrated</text>
<rect x="1115.29" y="96.67" width="24.44" height="8.56" fill="#0000ff" fill-opacity="0.5" stroke="#000" stroke-opacity="0.5" stroke-width="1.22"/>
<text transform="translate(1149.01 105.35) scale(1 1.05)" font-size="12.22" text-anchor="start">calibrated</text>
<text x="1069.5" y="35.3" font-size="46.5" text-anchor="start" class="ser">c)</text>
</g>
<g id="top3">
<clipPath id="ct3"><rect x="1628.1" y="49.4" width="436.5" height="325.55"/></clipPath>
<g clip-path="url(#ct3)">
<g fill="#808080" fill-opacity="0.5" stroke="#000" stroke-opacity="0.56" stroke-width="1.22">
<rect x="1647.85" y="374.57" width="13.21" height="0.38"/>
<rect x="1661.06" y="374.18" width="13.21" height="0.77"/>
<rect x="1674.27" y="373.8" width="13.21" height="1.15"/>
<rect x="1687.48" y="373.41" width="13.21" height="1.54"/>
<rect x="1700.69" y="372.64" width="13.21" height="2.31"/>
<rect x="1713.9" y="370.95" width="13.21" height="4"/>
<rect x="1727.11" y="366.88" width="13.21" height="8.07"/>
<rect x="1740.32" y="356.04" width="13.21" height="18.91"/>
<rect x="1753.53" y="342.82" width="13.21" height="32.13"/>
<rect x="1766.74" y="315.14" width="13.21" height="59.81"/>
<rect x="1779.95" y="281.47" width="13.21" height="93.48"/>
<rect x="1793.16" y="232.74" width="13.21" height="142.21"/>
<rect x="1806.37" y="170.86" width="13.21" height="204.09"/>
<rect x="1819.58" y="106.44" width="13.21" height="268.51"/>
<rect x="1832.79" y="70.39" width="13.21" height="304.56"/>
<rect x="1846" y="90.3" width="13.21" height="284.65"/>
<rect x="1859.21" y="110.05" width="13.21" height="264.9"/>
<rect x="1872.42" y="187.69" width="13.21" height="187.26"/>
<rect x="1885.63" y="250.96" width="13.21" height="123.99"/>
<rect x="1898.84" y="295.93" width="13.21" height="79.02"/>
<rect x="1912.05" y="331.98" width="13.21" height="42.97"/>
<rect x="1925.26" y="351.2" width="13.21" height="23.75"/>
<rect x="1938.47" y="360.81" width="13.21" height="14.14"/>
<rect x="1951.68" y="368.8" width="13.21" height="6.15"/>
<rect x="1964.89" y="370.34" width="13.21" height="4.61"/>
<rect x="1978.1" y="371.11" width="13.21" height="3.84"/>
<rect x="1991.31" y="373.41" width="13.21" height="1.54"/>
<rect x="2004.52" y="374.18" width="13.21" height="0.77"/>
<rect x="2017.73" y="374.57" width="13.21" height="0.38"/>
<rect x="2030.94" y="374.57" width="13.21" height="0.38"/>
</g>
<g fill="#0000ff" fill-opacity="0.5" stroke="#000" stroke-opacity="0.56" stroke-width="1.22">
<rect x="1704.06" y="374.18" width="9.92" height="0.77"/>
<rect x="1713.98" y="372.64" width="9.92" height="2.31"/>
<rect x="1723.9" y="370.49" width="9.92" height="4.46"/>
<rect x="1733.82" y="365.19" width="9.92" height="9.76"/>
<rect x="1743.74" y="364.42" width="9.92" height="10.53"/>
<rect x="1753.65" y="351.2" width="9.92" height="23.75"/>
<rect x="1763.57" y="327.9" width="9.92" height="47.05"/>
<rect x="1773.49" y="305.07" width="9.92" height="69.88"/>
<rect x="1783.41" y="273.79" width="9.92" height="101.16"/>
<rect x="1793.33" y="232.89" width="9.92" height="142.06"/>
<rect x="1803.24" y="196.61" width="9.92" height="178.34"/>
<rect x="1813.16" y="128.81" width="9.92" height="246.14"/>
<rect x="1823.08" y="107.13" width="9.92" height="267.82"/>
<rect x="1833" y="65.08" width="9.92" height="309.87"/>
<rect x="1842.92" y="77.61" width="9.92" height="297.34"/>
<rect x="1852.83" y="90.3" width="9.92" height="284.65"/>
<rect x="1862.75" y="105.21" width="9.92" height="269.74"/>
<rect x="1872.67" y="164.17" width="9.92" height="210.78"/>
<rect x="1882.59" y="229.13" width="9.92" height="145.82"/>
<rect x="1892.51" y="265.87" width="9.92" height="109.08"/>
<rect x="1902.42" y="304.31" width="9.92" height="70.64"/>
<rect x="1912.34" y="335.13" width="9.92" height="39.82"/>
<rect x="1922.26" y="346.43" width="9.92" height="28.52"/>
<rect x="1932.18" y="360.34" width="9.92" height="14.61"/>
<rect x="1942.1" y="368.49" width="9.92" height="6.46"/>
<rect x="1952.01" y="372.11" width="9.92" height="2.84"/>
<rect x="1961.93" y="373.41" width="9.92" height="1.54"/>
<rect x="1971.85" y="374.18" width="9.92" height="0.77"/>
</g>
<path d="M1656.25 374.95 L1658.11 374.95 L1659.98 374.95 L1661.84 374.95 L1663.7 374.95 L1665.57 374.95 L1667.43 374.95 L1669.29 374.94 L1671.16 374.94 L1673.02 374.94 L1674.88 374.94 L1676.75 374.93 L1678.61 374.93 L1680.48 374.93 L1682.34 374.92 L1684.2 374.91 L1686.07 374.9 L1687.93 374.89 L1689.79 374.88 L1691.66 374.87 L1693.52 374.85 L1695.38 374.82 L1697.25 374.8 L1699.11 374.76 L1700.97 374.73 L1702.84 374.68 L1704.7 374.62 L1706.56 374.56 L1708.43 374.48 L1710.29 374.39 L1712.15 374.28 L1714.02 374.15 L1715.88 374 L1717.75 373.83 L1719.61 373.63 L1721.47 373.39 L1723.34 373.12 L1725.2 372.8 L1727.06 372.44 L1728.93 372.02 L1730.79 371.54 L1732.65 371 L1734.52 370.37 L1736.38 369.67 L1738.24 368.87 L1740.11 367.96 L1741.97 366.94 L1743.83 365.79 L1745.7 364.51 L1747.56 363.07 L1749.42 361.48 L1751.29 359.7 L1753.15 357.74 L1755.02 355.56 L1756.88 353.17 L1758.74 350.55 L1760.61 347.68 L1762.47 344.55 L1764.33 341.14 L1766.2 337.44 L1768.06 333.45 L1769.92 329.14 L1771.79 324.51 L1773.65 319.55 L1775.51 314.26 L1777.38 308.63 L1779.24 302.65 L1781.1 296.34 L1782.97 289.68 L1784.83 282.7 L1786.69 275.39 L1788.56 267.77 L1790.42 259.85 L1792.29 251.66 L1794.15 243.22 L1796.01 234.55 L1797.88 225.68 L1799.74 216.64 L1801.6 207.48 L1803.47 198.24 L1805.33 188.94 L1807.19 179.65 L1809.06 170.41 L1810.92 161.26 L1812.78 152.26 L1814.65 143.46 L1816.51 134.92 L1818.37 126.68 L1820.24 118.8 L1822.1 111.32 L1823.96 104.31 L1825.83 97.81 L1827.69 91.86 L1829.56 86.5 L1831.42 81.77 L1833.28 77.71 L1835.15 74.35 L1837.01 71.71 L1838.87 69.81 L1840.74 68.66 L1842.6 68.28 L1844.46 68.66 L1846.33 69.81 L1848.19 71.71 L1850.05 74.35 L1851.92 77.71 L1853.78 81.77 L1855.64 86.5 L1857.51 91.86 L1859.37 97.81 L1861.23 104.31 L1863.1 111.32 L1864.96 118.8 L1866.83 126.68 L1868.69 134.92 L1870.55 143.46 L1872.42 152.26 L1874.28 161.26 L1876.14 170.41 L1878.01 179.65 L1879.87 188.94 L1881.73 198.24 L1883.6 207.48 L1885.46 216.64 L1887.32 225.68 L1889.19 234.55 L1891.05 243.22 L1892.91 251.66 L1894.78 259.85 L1896.64 267.77 L1898.5 275.39 L1900.37 282.7 L1902.23 289.68 L1904.1 296.34 L1905.96 302.65 L1907.82 308.63 L1909.69 314.26 L1911.55 319.55 L1913.41 324.51 L1915.28 329.14 L1917.14 333.45 L1919 337.44 L1920.87 341.14 L1922.73 344.55 L1924.59 347.68 L1926.46 350.55 L1928.32 353.17 L1930.18 355.56 L1932.05 357.74 L1933.91 359.7 L1935.77 361.48 L1937.64 363.07 L1939.5 364.51 L1941.37 365.79 L1943.23 366.94 L1945.09 367.96 L1946.96 368.87 L1948.82 369.67 L1950.68 370.37 L1952.55 371 L1954.41 371.54 L1956.27 372.02 L1958.14 372.44 L1960 372.8 L1961.86 373.12 L1963.73 373.39 L1965.59 373.63 L1967.45 373.83 L1969.32 374 L1971.18 374.15 L1973.05 374.28 L1974.91 374.39 L1976.77 374.48 L1978.64 374.56 L1980.5 374.62 L1982.36 374.68 L1984.23 374.73 L1986.09 374.76 L1987.95 374.8 L1989.82 374.82 L1991.68 374.85 L1993.54 374.87 L1995.41 374.88 L1997.27 374.89 L1999.13 374.9 L2001 374.91 L2002.86 374.92 L2004.72 374.93 L2006.59 374.93 L2008.45 374.93 L2010.32 374.94 L2012.18 374.94 L2014.04 374.94 L2015.91 374.94 L2017.77 374.95 L2019.63 374.95 L2021.5 374.95 L2023.36 374.95 L2025.22 374.95 L2027.09 374.95 L2028.95 374.95" fill="none" stroke="#ffa500" stroke-width="1.83" stroke-linejoin="round" stroke-linecap="square"/>
</g>
<rect x="1628.1" y="49.4" width="436.5" height="325.55" fill="none" stroke="#000" stroke-width="0.98"/>
<text transform="translate(1693.52 392.79) scale(1 1.05)" font-size="12.22" text-anchor="middle">−4</text>
<text transform="translate(1768.06 392.79) scale(1 1.05)" font-size="12.22" text-anchor="middle">−2</text>
<text transform="translate(1842.6 392.79) scale(1 1.05)" font-size="12.22" text-anchor="middle">0</text>
<text transform="translate(1917.14 392.79) scale(1 1.05)" font-size="12.22" text-anchor="middle">2</text>
<text transform="translate(1991.68 392.79) scale(1 1.05)" font-size="12.22" text-anchor="middle">4</text>
<path d="M1693.52 374.95v4.28M1768.06 374.95v4.28M1842.6 374.95v4.28M1917.14 374.95v4.28M1991.68 374.95v4.28" stroke="#000" stroke-width="0.98" fill="none"/>
<text transform="translate(1619.54 379.53) scale(1 1.05)" font-size="12.22" text-anchor="end">0.00</text>
<text transform="translate(1619.54 341.1) scale(1 1.05)" font-size="12.22" text-anchor="end">0.05</text>
<text transform="translate(1619.54 302.66) scale(1 1.05)" font-size="12.22" text-anchor="end">0.10</text>
<text transform="translate(1619.54 264.23) scale(1 1.05)" font-size="12.22" text-anchor="end">0.15</text>
<text transform="translate(1619.54 225.79) scale(1 1.05)" font-size="12.22" text-anchor="end">0.20</text>
<text transform="translate(1619.54 187.35) scale(1 1.05)" font-size="12.22" text-anchor="end">0.25</text>
<text transform="translate(1619.54 148.92) scale(1 1.05)" font-size="12.22" text-anchor="end">0.30</text>
<text transform="translate(1619.54 110.48) scale(1 1.05)" font-size="12.22" text-anchor="end">0.35</text>
<text transform="translate(1619.54 72.05) scale(1 1.05)" font-size="12.22" text-anchor="end">0.40</text>
<path d="M1628.1 374.95h-4.28M1628.1 336.51h-4.28M1628.1 298.08h-4.28M1628.1 259.64h-4.28M1628.1 221.21h-4.28M1628.1 182.77h-4.28M1628.1 144.34h-4.28M1628.1 105.9h-4.28M1628.1 67.46h-4.28" stroke="#000" stroke-width="0.98" fill="none"/>
<text transform="translate(1808.7 410.1) scale(1 1.05)" font-size="12.22" text-anchor="start">residuals / </text>
<text transform="translate(1875.1 410.1) scale(1 1.05)" font-size="12.22" font-style="italic">σ</text>
<text transform="translate(1879.99 409.37) scale(1 1.05)" font-size="12.22" text-anchor="middle">ˆ</text>
<text transform="translate(1584.1 212.17) rotate(-90) scale(1 1.05)" font-size="12.22" text-anchor="middle">relative counts</text>
<rect x="1634.1" y="55.45" width="168.4" height="57" rx="2.4" fill="#fff" fill-opacity="0.8" stroke="#ccc" stroke-opacity="0.8" stroke-width="1.22"/>
<path d="M1638.99 64.95h24.44" stroke="#ffa500" stroke-opacity="1" stroke-width="1.83" stroke-linecap="square" fill="none"/>
<text transform="translate(1672.71 69.35) scale(1 1.05)" font-size="12.22" text-anchor="start">standard normal pdf</text>
<rect x="1638.99" y="78.67" width="24.44" height="8.56" fill="#808080" fill-opacity="0.5" stroke="#000" stroke-opacity="0.5" stroke-width="1.22"/>
<text transform="translate(1672.71 87.35) scale(1 1.05)" font-size="12.22" text-anchor="start">uncalibrated</text>
<rect x="1638.99" y="96.67" width="24.44" height="8.56" fill="#0000ff" fill-opacity="0.5" stroke="#000" stroke-opacity="0.5" stroke-width="1.22"/>
<text transform="translate(1672.71 105.35) scale(1 1.05)" font-size="12.22" text-anchor="start">calibrated</text>
<text x="1592" y="35.8" font-size="46.5" text-anchor="start" class="ser">d)</text>
</g>
<g id="bot0">
<clipPath id="ch0"><rect x="57.1" y="472.6" width="436.4" height="95.3"/></clipPath>
<g clip-path="url(#ch0)">
<g fill="#808080" fill-opacity="0.5" stroke="#000" stroke-opacity="0.56" stroke-width="1.22">
<rect x="76.94" y="559.84" width="26.45" height="8.06"/>
<rect x="103.38" y="527.17" width="26.45" height="40.73"/>
<rect x="129.83" y="495.03" width="26.45" height="72.87"/>
<rect x="156.28" y="479.81" width="26.45" height="88.09"/>
<rect x="182.73" y="477.14" width="26.45" height="90.76"/>
<rect x="209.18" y="511.55" width="26.45" height="56.35"/>
<rect x="235.63" y="534.96" width="26.45" height="32.94"/>
<rect x="262.08" y="547.65" width="26.45" height="20.25"/>
<rect x="288.52" y="556.28" width="26.45" height="11.62"/>
<rect x="314.97" y="560.6" width="26.45" height="7.3"/>
<rect x="341.42" y="562.56" width="26.45" height="5.34"/>
<rect x="367.87" y="564.12" width="26.45" height="3.78"/>
<rect x="394.32" y="566.21" width="26.45" height="1.69"/>
<rect x="420.77" y="567.05" width="26.45" height="0.85"/>
<rect x="447.22" y="567.63" width="26.45" height="0.27"/>
</g>
<g fill="#0000ff" fill-opacity="0.5" stroke="#000" stroke-opacity="0.56" stroke-width="1.22">
<rect x="103.62" y="559.84" width="10.43" height="8.06"/>
<rect x="114.05" y="527.17" width="10.43" height="40.73"/>
<rect x="124.47" y="495.03" width="10.43" height="72.87"/>
<rect x="134.9" y="479.81" width="10.43" height="88.09"/>
<rect x="145.32" y="477.14" width="10.43" height="90.76"/>
<rect x="155.75" y="511.55" width="10.43" height="56.35"/>
<rect x="166.17" y="534.96" width="10.43" height="32.94"/>
<rect x="176.6" y="547.65" width="10.43" height="20.25"/>
<rect x="187.03" y="556.28" width="10.43" height="11.62"/>
<rect x="197.45" y="560.6" width="10.43" height="7.3"/>
<rect x="207.88" y="562.56" width="10.43" height="5.34"/>
<rect x="218.3" y="564.12" width="10.43" height="3.78"/>
<rect x="228.73" y="566.21" width="10.43" height="1.69"/>
<rect x="239.15" y="567.05" width="10.43" height="0.85"/>
<rect x="249.58" y="567.63" width="10.43" height="0.27"/>
</g>
</g>
<rect x="57.1" y="472.6" width="436.4" height="95.3" fill="none" stroke="#000" stroke-width="0.98"/>
<text transform="translate(48.54 572.48) scale(1 1.05)" font-size="12.22" text-anchor="end">0</text>
<text transform="translate(48.54 527.97) scale(1 1.05)" font-size="12.22" text-anchor="end">1000</text>
<text transform="translate(48.54 483.46) scale(1 1.05)" font-size="12.22" text-anchor="end">2000</text>
<path d="M57.1 567.9h-4.28M57.1 523.39h-4.28M57.1 478.87h-4.28" stroke="#000" stroke-width="0.98" fill="none"/>
<text transform="translate(9.9 520.25) rotate(-90) scale(1 1.05)" font-size="12.22" text-anchor="middle">bin counts</text>
<rect x="366.8" y="478.65" width="120.7" height="39" rx="2.4" fill="#fff" fill-opacity="0.8" stroke="#ccc" stroke-opacity="0.8" stroke-width="1.22"/>
<rect x="371.69" y="483.87" width="24.44" height="8.56" fill="#808080" fill-opacity="0.5" stroke="#000" stroke-opacity="0.5" stroke-width="1.22"/>
<text transform="translate(405.41 492.55) scale(1 1.05)" font-size="12.22" text-anchor="start">uncalibrated</text>
<rect x="371.69" y="501.87" width="24.44" height="8.56" fill="#0000ff" fill-opacity="0.5" stroke="#000" stroke-opacity="0.5" stroke-width="1.22"/>
<text transform="translate(405.41 510.55) scale(1 1.05)" font-size="12.22" text-anchor="start">calibrated</text>
<clipPath id="cs0"><rect x="57.1" y="587.45" width="436.4" height="210"/></clipPath>
<g clip-path="url(#cs0)">
<path d="M76.94 787.9L473.66 597" stroke="#ff0000" stroke-opacity="0.6" stroke-width="1.83" stroke-dasharray="6.78 2.93" fill="none"/>
<path d="M90.16 772.96L460.44 702.51" stroke="#808080" stroke-opacity="0.5" stroke-width="1.83" fill="none"/>
<path d="M108.84 772.58L254.79 703.22" stroke="#0000ff" stroke-opacity="0.5" stroke-width="1.83" fill="none"/>
<circle cx="90.16" cy="773.13" r="3.67" fill="#808080" fill-opacity="0.5" stroke="#808080" stroke-opacity="0.5" stroke-width="1.22"/>
<circle cx="116.61" cy="765.77" r="3.67" fill="#808080" fill-opacity="0.5" stroke="#808080" stroke-opacity="0.5" stroke-width="1.22"/>
<circle cx="143.06" cy="762.22" r="3.67" fill="#808080" fill-opacity="0.5" stroke="#808080" stroke-opacity="0.5" stroke-width="1.22"/>
<circle cx="169.51" cy="759.22" r="3.67" fill="#808080" fill-opacity="0.5" stroke="#808080" stroke-opacity="0.5" stroke-width="1.22"/>
<circle cx="195.95" cy="757.18" r="3.67" fill="#808080" fill-opacity="0.5" stroke="#808080" stroke-opacity="0.5" stroke-width="1.22"/>
<circle cx="222.4" cy="749.95" r="3.67" fill="#808080" fill-opacity="0.5" stroke="#808080" stroke-opacity="0.5" stroke-width="1.22"/>
<circle cx="248.85" cy="740.68" r="3.67" fill="#808080" fill-opacity="0.5" stroke="#808080" stroke-opacity="0.5" stroke-width="1.22"/>
<circle cx="275.3" cy="733.73" r="3.67" fill="#808080" fill-opacity="0.5" stroke="#808080" stroke-opacity="0.5" stroke-width="1.22"/>
<circle cx="301.75" cy="726.09" r="3.67" fill="#808080" fill-opacity="0.5" stroke="#808080" stroke-opacity="0.5" stroke-width="1.22"/>
<circle cx="328.2" cy="725.77" r="3.67" fill="#808080" fill-opacity="0.5" stroke="#808080" stroke-opacity="0.5" stroke-width="1.22"/>
<circle cx="354.65" cy="719.42" r="3.67" fill="#808080" fill-opacity="0.5" stroke="#808080" stroke-opacity="0.5" stroke-width="1.22"/>
<circle cx="381.09" cy="715.87" r="3.67" fill="#808080" fill-opacity="0.5" stroke="#808080" stroke-opacity="0.5" stroke-width="1.22"/>
<circle cx="407.54" cy="722.14" r="3.67" fill="#808080" fill-opacity="0.5" stroke="#808080" stroke-opacity="0.5" stroke-width="1.22"/>
<circle cx="433.99" cy="730.87" r="3.67" fill="#808080" fill-opacity="0.5" stroke="#808080" stroke-opacity="0.5" stroke-width="1.22"/>
<circle cx="460.44" cy="734.41" r="3.67" fill="#fff" fill-opacity="0.6" stroke="#808080" stroke-opacity="0.5" stroke-width="1.22"/>
<circle cx="108.84" cy="773.13" r="3.67" fill="#0000ff" fill-opacity="0.8" stroke="#0000ff" stroke-opacity="0.8" stroke-width="1.22"/>
<circle cx="119.26" cy="765.77" r="3.67" fill="#0000ff" fill-opacity="0.8" stroke="#0000ff" stroke-opacity="0.8" stroke-width="1.22"/>
<circle cx="129.69" cy="762.22" r="3.67" fill="#0000ff" fill-opacity="0.8" stroke="#0000ff" stroke-opacity="0.8" stroke-width="1.22"/>
<circle cx="140.11" cy="759.22" r="3.67" fill="#0000ff" fill-opacity="0.8" stroke="#0000ff" stroke-opacity="0.8" stroke-width="1.22"/>
<circle cx="150.54" cy="757.18" r="3.67" fill="#0000ff" fill-opacity="0.8" stroke="#0000ff" stroke-opacity="0.8" stroke-width="1.22"/>
<circle cx="160.96" cy="749.95" r="3.67" fill="#0000ff" fill-opacity="0.8" stroke="#0000ff" stroke-opacity="0.8" stroke-width="1.22"/>
<circle cx="171.39" cy="740.68" r="3.67" fill="#0000ff" fill-opacity="0.8" stroke="#0000ff" stroke-opacity="0.8" stroke-width="1.22"/>
<circle cx="181.81" cy="733.73" r="3.67" fill="#0000ff" fill-opacity="0.8" stroke="#0000ff" stroke-opacity="0.8" stroke-width="1.22"/>
<circle cx="192.24" cy="726.09" r="3.67" fill="#0000ff" fill-opacity="0.8" stroke="#0000ff" stroke-opacity="0.8" stroke-width="1.22"/>
<circle cx="202.66" cy="725.77" r="3.67" fill="#0000ff" fill-opacity="0.8" stroke="#0000ff" stroke-opacity="0.8" stroke-width="1.22"/>
<circle cx="213.09" cy="719.42" r="3.67" fill="#0000ff" fill-opacity="0.8" stroke="#0000ff" stroke-opacity="0.8" stroke-width="1.22"/>
<circle cx="223.51" cy="715.87" r="3.67" fill="#0000ff" fill-opacity="0.8" stroke="#0000ff" stroke-opacity="0.8" stroke-width="1.22"/>
<circle cx="233.94" cy="722.14" r="3.67" fill="#0000ff" fill-opacity="0.8" stroke="#0000ff" stroke-opacity="0.8" stroke-width="1.22"/>
<circle cx="244.36" cy="730.87" r="3.67" fill="#0000ff" fill-opacity="0.8" stroke="#0000ff" stroke-opacity="0.8" stroke-width="1.22"/>
<circle cx="254.79" cy="734.41" r="3.67" fill="#fff" fill-opacity="0.8" stroke="#0000ff" stroke-opacity="0.8" stroke-width="1.22"/>
</g>
<rect x="57.1" y="587.45" width="436.4" height="210" fill="none" stroke="#000" stroke-width="0.98"/>
<text transform="translate(78.75 815.29) scale(1 1.05)" font-size="12.22" text-anchor="middle">0.1</text>
<text transform="translate(135.41 815.29) scale(1 1.05)" font-size="12.22" text-anchor="middle">0.2</text>
<text transform="translate(192.07 815.29) scale(1 1.05)" font-size="12.22" text-anchor="middle">0.3</text>
<text transform="translate(248.73 815.29) scale(1 1.05)" font-size="12.22" text-anchor="middle">0.4</text>
<text transform="translate(305.39 815.29) scale(1 1.05)" font-size="12.22" text-anchor="middle">0.5</text>
<text transform="translate(362.05 815.29) scale(1 1.05)" font-size="12.22" text-anchor="middle">0.6</text>
<text transform="translate(418.7 815.29) scale(1 1.05)" font-size="12.22" text-anchor="middle">0.7</text>
<text transform="translate(475.36 815.29) scale(1 1.05)" font-size="12.22" text-anchor="middle">0.8</text>
<path d="M78.75 797.45v4.28M135.41 797.45v4.28M192.07 797.45v4.28M248.73 797.45v4.28M305.39 797.45v4.28M362.05 797.45v4.28M418.7 797.45v4.28M475.36 797.45v4.28" stroke="#000" stroke-width="0.98" fill="none"/>
<text transform="translate(48.54 791.62) scale(1 1.05)" font-size="12.22" text-anchor="end">0.1</text>
<text transform="translate(48.54 764.35) scale(1 1.05)" font-size="12.22" text-anchor="end">0.2</text>
<text transform="translate(48.54 737.09) scale(1 1.05)" font-size="12.22" text-anchor="end">0.3</text>
<text transform="translate(48.54 709.82) scale(1 1.05)" font-size="12.22" text-anchor="end">0.4</text>
<text transform="translate(48.54 682.56) scale(1 1.05)" font-size="12.22" text-anchor="end">0.5</text>
<text transform="translate(48.54 655.29) scale(1 1.05)" font-size="12.22" text-anchor="end">0.6</text>
<text transform="translate(48.54 628.03) scale(1 1.05)" font-size="12.22" text-anchor="end">0.7</text>
<text transform="translate(48.54 600.76) scale(1 1.05)" font-size="12.22" text-anchor="end">0.8</text>
<path d="M57.1 787.03h-4.28M57.1 759.77h-4.28M57.1 732.5h-4.28M57.1 705.24h-4.28M57.1 677.97h-4.28M57.1 650.71h-4.28M57.1 623.44h-4.28M57.1 596.18h-4.28" stroke="#000" stroke-width="0.98" fill="none"/>
<text transform="translate(271 832.3) scale(1 1.05)" font-size="12.22" font-style="italic">σ</text>
<text transform="translate(275.89 831.57) scale(1 1.05)" font-size="12.22" text-anchor="middle">ˆ</text>
<text transform="translate(21.5 692.45) rotate(-90) scale(1 1.05)" font-size="12.22" text-anchor="middle">RMS residuals</text>
<rect x="63.1" y="593.5" width="192.6" height="57" rx="2.4" fill="#fff" fill-opacity="0.8" stroke="#ccc" stroke-opacity="0.8" stroke-width="1.22"/>
<path d="M67.99 603h24.44" stroke="#ff0000" stroke-opacity="0.6" stroke-width="1.83" stroke-dasharray="6.78 2.93" fill="none"/>
<text transform="translate(101.71 607.4) scale(1 1.05)" font-size="12.22" text-anchor="start">identity function</text>
<path d="M67.99 621h24.44" stroke="#808080" stroke-opacity="0.5" stroke-width="1.83" stroke-linecap="square" fill="none"/>
<text transform="translate(101.71 625.4) scale(1 1.05)" font-size="12.22" text-anchor="start">fitted line (uncalibrated)</text>
<path d="M67.99 639h24.44" stroke="#0000ff" stroke-opacity="0.5" stroke-width="1.83" stroke-linecap="square" fill="none"/>
<text transform="translate(101.71 643.4) scale(1 1.05)" font-size="12.22" text-anchor="start">fitted line (calibrated)</text>
<text x="25.7" y="457.2" font-size="46.5" text-anchor="start" class="ser">e)</text>
</g>
<g id="bot1">
<clipPath id="ch1"><rect x="580.9" y="472.6" width="436.2" height="95.3"/></clipPath>
<g clip-path="url(#ch1)">
<g fill="#808080" fill-opacity="0.5" stroke="#000" stroke-opacity="0.56" stroke-width="1.22">
<rect x="600.73" y="567.36" width="26.44" height="0.54"/>
<rect x="627.16" y="556.5" width="26.44" height="11.4"/>
<rect x="653.6" y="517.87" width="26.44" height="50.03"/>
<rect x="680.04" y="477.14" width="26.44" height="90.76"/>
<rect x="706.47" y="483.36" width="26.44" height="84.54"/>
<rect x="732.91" y="506.9" width="26.44" height="61"/>
<rect x="759.35" y="530.32" width="26.44" height="37.58"/>
<rect x="785.78" y="544.36" width="26.44" height="23.54"/>
<rect x="812.22" y="555.45" width="26.44" height="12.45"/>
<rect x="838.65" y="562.06" width="26.44" height="5.84"/>
<rect x="865.09" y="564.87" width="26.44" height="3.03"/>
<rect x="891.53" y="565.72" width="26.44" height="2.18"/>
<rect x="917.96" y="567.43" width="26.44" height="0.47"/>
<rect x="944.4" y="567.59" width="26.44" height="0.31"/>
<rect x="970.84" y="567.78" width="26.44" height="0.12"/>
</g>
<g fill="#0000ff" fill-opacity="0.5" stroke="#000" stroke-opacity="0.56" stroke-width="1.22">
<rect x="666.57" y="567.36" width="7.67" height="0.54"/>
<rect x="674.24" y="556.5" width="7.67" height="11.4"/>
<rect x="681.91" y="517.87" width="7.67" height="50.03"/>
<rect x="689.58" y="477.14" width="7.67" height="90.76"/>
<rect x="697.26" y="483.36" width="7.67" height="84.54"/>
<rect x="704.93" y="506.9" width="7.67" height="61"/>
<rect x="712.6" y="530.32" width="7.67" height="37.58"/>
<rect x="720.27" y="544.36" width="7.67" height="23.54"/>
<rect x="727.94" y="555.45" width="7.67" height="12.45"/>
<rect x="735.62" y="562.06" width="7.67" height="5.84"/>
<rect x="743.29" y="564.87" width="7.67" height="3.03"/>
<rect x="750.96" y="565.72" width="7.67" height="2.18"/>
<rect x="758.63" y="567.43" width="7.67" height="0.47"/>
<rect x="766.31" y="567.59" width="7.67" height="0.31"/>
<rect x="773.98" y="567.78" width="7.67" height="0.12"/>
</g>
</g>
<rect x="580.9" y="472.6" width="436.2" height="95.3" fill="none" stroke="#000" stroke-width="0.98"/>
<text transform="translate(572.34 572.48) scale(1 1.05)" font-size="12.22" text-anchor="end">0</text>
<text transform="translate(572.34 533.58) scale(1 1.05)" font-size="12.22" text-anchor="end">1000</text>
<text transform="translate(572.34 494.68) scale(1 1.05)" font-size="12.22" text-anchor="end">2000</text>
<path d="M580.9 567.9h-4.28M580.9 529h-4.28M580.9 490.09h-4.28" stroke="#000" stroke-width="0.98" fill="none"/>
<text transform="translate(533.9 520.25) rotate(-90) scale(1 1.05)" font-size="12.22" text-anchor="middle">bin counts</text>
<rect x="890.4" y="478.65" width="120.7" height="39" rx="2.4" fill="#fff" fill-opacity="0.8" stroke="#ccc" stroke-opacity="0.8" stroke-width="1.22"/>
<rect x="895.29" y="483.87" width="24.44" height="8.56" fill="#808080" fill-opacity="0.5" stroke="#000" stroke-opacity="0.5" stroke-width="1.22"/>
<text transform="translate(929.01 492.55) scale(1 1.05)" font-size="12.22" text-anchor="start">uncalibrated</text>
<rect x="895.29" y="501.87" width="24.44" height="8.56" fill="#0000ff" fill-opacity="0.5" stroke="#000" stroke-opacity="0.5" stroke-width="1.22"/>
<text transform="translate(929.01 510.55) scale(1 1.05)" font-size="12.22" text-anchor="start">calibrated</text>
<clipPath id="cs1"><rect x="580.9" y="587.45" width="436.2" height="210"/></clipPath>
<g clip-path="url(#cs1)">
<path d="M600.73 787.9L997.27 597" stroke="#ff0000" stroke-opacity="0.6" stroke-width="1.83" stroke-dasharray="6.78 2.93" fill="none"/>
<path d="M613.95 756.67L984.05 704.35" stroke="#808080" stroke-opacity="0.5" stroke-width="1.83" fill="none"/>
<path d="M670.4 756.67L777.81 704.35" stroke="#0000ff" stroke-opacity="0.5" stroke-width="1.83" fill="none"/>
<circle cx="613.95" cy="746.14" r="3.67" fill="#fff" fill-opacity="0.6" stroke="#808080" stroke-opacity="0.5" stroke-width="1.22"/>
<circle cx="640.38" cy="749.11" r="3.67" fill="#808080" fill-opacity="0.5" stroke="#808080" stroke-opacity="0.5" stroke-width="1.22"/>
<circle cx="666.82" cy="746.96" r="3.67" fill="#808080" fill-opacity="0.5" stroke="#808080" stroke-opacity="0.5" stroke-width="1.22"/>
<circle cx="693.25" cy="745.61" r="3.67" fill="#808080" fill-opacity="0.5" stroke="#808080" stroke-opacity="0.5" stroke-width="1.22"/>
<circle cx="719.69" cy="742.64" r="3.67" fill="#808080" fill-opacity="0.5" stroke="#808080" stroke-opacity="0.5" stroke-width="1.22"/>
<circle cx="746.13" cy="740.23" r="3.67" fill="#808080" fill-opacity="0.5" stroke="#808080" stroke-opacity="0.5" stroke-width="1.22"/>
<circle cx="772.56" cy="734.55" r="3.67" fill="#808080" fill-opacity="0.5" stroke="#808080" stroke-opacity="0.5" stroke-width="1.22"/>
<circle cx="799" cy="732.93" r="3.67" fill="#808080" fill-opacity="0.5" stroke="#808080" stroke-opacity="0.5" stroke-width="1.22"/>
<circle cx="825.44" cy="724.58" r="3.67" fill="#808080" fill-opacity="0.5" stroke="#808080" stroke-opacity="0.5" stroke-width="1.22"/>
<circle cx="851.87" cy="718.38" r="3.67" fill="#808080" fill-opacity="0.5" stroke="#808080" stroke-opacity="0.5" stroke-width="1.22"/>
<circle cx="878.31" cy="712.97" r="3.67" fill="#808080" fill-opacity="0.5" stroke="#808080" stroke-opacity="0.5" stroke-width="1.22"/>
<circle cx="904.75" cy="709.74" r="3.67" fill="#808080" fill-opacity="0.5" stroke="#808080" stroke-opacity="0.5" stroke-width="1.22"/>
<circle cx="931.18" cy="715.94" r="3.67" fill="#fff" fill-opacity="0.6" stroke="#808080" stroke-opacity="0.5" stroke-width="1.22"/>
<circle cx="957.62" cy="691.12" r="3.67" fill="#fff" fill-opacity="0.6" stroke="#808080" stroke-opacity="0.5" stroke-width="1.22"/>
<circle cx="984.05" cy="669.27" r="3.67" fill="#fff" fill-opacity="0.6" stroke="#808080" stroke-opacity="0.5" stroke-width="1.22"/>
<circle cx="670.4" cy="746.14" r="3.67" fill="#fff" fill-opacity="0.8" stroke="#0000ff" stroke-opacity="0.8" stroke-width="1.22"/>
<circle cx="678.08" cy="749.11" r="3.67" fill="#0000ff" fill-opacity="0.8" stroke="#0000ff" stroke-opacity="0.8" stroke-width="1.22"/>
<circle cx="685.75" cy="746.96" r="3.67" fill="#0000ff" fill-opacity="0.8" stroke="#0000ff" stroke-opacity="0.8" stroke-width="1.22"/>
<circle cx="693.42" cy="745.61" r="3.67" fill="#0000ff" fill-opacity="0.8" stroke="#0000ff" stroke-opacity="0.8" stroke-width="1.22"/>
<circle cx="701.09" cy="742.64" r="3.67" fill="#0000ff" fill-opacity="0.8" stroke="#0000ff" stroke-opacity="0.8" stroke-width="1.22"/>
<circle cx="708.76" cy="740.23" r="3.67" fill="#0000ff" fill-opacity="0.8" stroke="#0000ff" stroke-opacity="0.8" stroke-width="1.22"/>
<circle cx="716.44" cy="734.55" r="3.67" fill="#0000ff" fill-opacity="0.8" stroke="#0000ff" stroke-opacity="0.8" stroke-width="1.22"/>
<circle cx="724.11" cy="732.93" r="3.67" fill="#0000ff" fill-opacity="0.8" stroke="#0000ff" stroke-opacity="0.8" stroke-width="1.22"/>
<circle cx="731.78" cy="724.58" r="3.67" fill="#0000ff" fill-opacity="0.8" stroke="#0000ff" stroke-opacity="0.8" stroke-width="1.22"/>
<circle cx="739.45" cy="718.38" r="3.67" fill="#0000ff" fill-opacity="0.8" stroke="#0000ff" stroke-opacity="0.8" stroke-width="1.22"/>
<circle cx="747.13" cy="712.97" r="3.67" fill="#0000ff" fill-opacity="0.8" stroke="#0000ff" stroke-opacity="0.8" stroke-width="1.22"/>
<circle cx="754.8" cy="709.74" r="3.67" fill="#0000ff" fill-opacity="0.8" stroke="#0000ff" stroke-opacity="0.8" stroke-width="1.22"/>
<circle cx="762.47" cy="715.94" r="3.67" fill="#fff" fill-opacity="0.8" stroke="#0000ff" stroke-opacity="0.8" stroke-width="1.22"/>
<circle cx="770.14" cy="691.12" r="3.67" fill="#fff" fill-opacity="0.8" stroke="#0000ff" stroke-opacity="0.8" stroke-width="1.22"/>
<circle cx="777.81" cy="669.27" r="3.67" fill="#fff" fill-opacity="0.8" stroke="#0000ff" stroke-opacity="0.8" stroke-width="1.22"/>
</g>
<rect x="580.9" y="587.45" width="436.2" height="210" fill="none" stroke="#000" stroke-width="0.98"/>
<text transform="translate(606.49 815.29) scale(1 1.05)" font-size="12.22" text-anchor="middle">0.1</text>
<text transform="translate(656.64 815.29) scale(1 1.05)" font-size="12.22" text-anchor="middle">0.2</text>
<text transform="translate(706.78 815.29) scale(1 1.05)" font-size="12.22" text-anchor="middle">0.3</text>
<text transform="translate(756.93 815.29) scale(1 1.05)" font-size="12.22" text-anchor="middle">0.4</text>
<text transform="translate(807.07 815.29) scale(1 1.05)" font-size="12.22" text-anchor="middle">0.5</text>
<text transform="translate(857.22 815.29) scale(1 1.05)" font-size="12.22" text-anchor="middle">0.6</text>
<text transform="translate(907.36 815.29) scale(1 1.05)" font-size="12.22" text-anchor="middle">0.7</text>
<text transform="translate(957.51 815.29) scale(1 1.05)" font-size="12.22" text-anchor="middle">0.8</text>
<text transform="translate(1007.65 815.29) scale(1 1.05)" font-size="12.22" text-anchor="middle">0.9</text>
<path d="M606.49 797.45v4.28M656.64 797.45v4.28M706.78 797.45v4.28M756.93 797.45v4.28M807.07 797.45v4.28M857.22 797.45v4.28M907.36 797.45v4.28M957.51 797.45v4.28M1007.65 797.45v4.28" stroke="#000" stroke-width="0.98" fill="none"/>
<text transform="translate(572.34 765.57) scale(1 1.05)" font-size="12.22" text-anchor="end">0.2</text>
<text transform="translate(572.34 717.29) scale(1 1.05)" font-size="12.22" text-anchor="end">0.4</text>
<text transform="translate(572.34 669.01) scale(1 1.05)" font-size="12.22" text-anchor="end">0.6</text>
<text transform="translate(572.34 620.72) scale(1 1.05)" font-size="12.22" text-anchor="end">0.8</text>
<path d="M580.9 760.99h-4.28M580.9 712.7h-4.28M580.9 664.42h-4.28M580.9 616.14h-4.28" stroke="#000" stroke-width="0.98" fill="none"/>
<text transform="translate(794.7 832.3) scale(1 1.05)" font-size="12.22" font-style="italic">σ</text>
<text transform="translate(799.59 831.57) scale(1 1.05)" font-size="12.22" text-anchor="middle">ˆ</text>
<text transform="translate(544 692.45) rotate(-90) scale(1 1.05)" font-size="12.22" text-anchor="middle">RMS residuals</text>
<rect x="586.9" y="593.5" width="192.6" height="57" rx="2.4" fill="#fff" fill-opacity="0.8" stroke="#ccc" stroke-opacity="0.8" stroke-width="1.22"/>
<path d="M591.79 603h24.44" stroke="#ff0000" stroke-opacity="0.6" stroke-width="1.83" stroke-dasharray="6.78 2.93" fill="none"/>
<text transform="translate(625.51 607.4) scale(1 1.05)" font-size="12.22" text-anchor="start">identity function</text>
<path d="M591.79 621h24.44" stroke="#808080" stroke-opacity="0.5" stroke-width="1.83" stroke-linecap="square" fill="none"/>
<text transform="translate(625.51 625.4) scale(1 1.05)" font-size="12.22" text-anchor="start">fitted line (uncalibrated)</text>
<path d="M591.79 639h24.44" stroke="#0000ff" stroke-opacity="0.5" stroke-width="1.83" stroke-linecap="square" fill="none"/>
<text transform="translate(625.51 643.4) scale(1 1.05)" font-size="12.22" text-anchor="start">fitted line (calibrated)</text>
<text x="552" y="458.7" font-size="46.5" text-anchor="start" class="ser">f)</text>
</g>
<g id="bot2">
<clipPath id="ch2"><rect x="1104.3" y="472.6" width="436.6" height="95.3"/></clipPath>
<g clip-path="url(#ch2)">
<g fill="#808080" fill-opacity="0.5" stroke="#000" stroke-opacity="0.56" stroke-width="1.22">
<rect x="1124.15" y="561.83" width="26.46" height="6.07"/>
<rect x="1150.61" y="529.67" width="26.46" height="38.23"/>
<rect x="1177.07" y="490.1" width="26.46" height="77.8"/>
<rect x="1203.53" y="477.14" width="26.46" height="90.76"/>
<rect x="1229.99" y="497.35" width="26.46" height="70.55"/>
<rect x="1256.45" y="521.44" width="26.46" height="46.46"/>
<rect x="1282.91" y="536.68" width="26.46" height="31.22"/>
<rect x="1309.37" y="547.93" width="26.46" height="19.97"/>
<rect x="1335.83" y="557.47" width="26.46" height="10.43"/>
<rect x="1362.29" y="561.95" width="26.46" height="5.95"/>
<rect x="1388.75" y="566.19" width="26.46" height="1.71"/>
<rect x="1415.21" y="566.51" width="26.46" height="1.39"/>
<rect x="1441.67" y="567.33" width="26.46" height="0.57"/>
<rect x="1468.13" y="567.66" width="26.46" height="0.24"/>
<rect x="1494.59" y="567.78" width="26.46" height="0.12"/>
</g>
<g fill="#0000ff" fill-opacity="0.5" stroke="#000" stroke-opacity="0.56" stroke-width="1.22">
<rect x="1195.54" y="561.83" width="6.72" height="6.07"/>
<rect x="1202.26" y="529.67" width="6.72" height="38.23"/>
<rect x="1208.99" y="490.1" width="6.72" height="77.8"/>
<rect x="1215.71" y="477.14" width="6.72" height="90.76"/>
<rect x="1222.43" y="497.35" width="6.72" height="70.55"/>
<rect x="1229.16" y="521.44" width="6.72" height="46.46"/>
<rect x="1235.88" y="536.68" width="6.72" height="31.22"/>
<rect x="1242.61" y="547.93" width="6.72" height="19.97"/>
<rect x="1249.33" y="557.47" width="6.72" height="10.43"/>
<rect x="1256.05" y="561.95" width="6.72" height="5.95"/>
<rect x="1262.78" y="566.19" width="6.72" height="1.71"/>
<rect x="1269.5" y="566.51" width="6.72" height="1.39"/>
<rect x="1276.22" y="567.33" width="6.72" height="0.57"/>
<rect x="1282.95" y="567.66" width="6.72" height="0.24"/>
<rect x="1289.67" y="567.78" width="6.72" height="0.12"/>
</g>
</g>
<rect x="1104.3" y="472.6" width="436.6" height="95.3" fill="none" stroke="#000" stroke-width="0.98"/>
<text transform="translate(1095.74 572.48) scale(1 1.05)" font-size="12.22" text-anchor="end">0</text>
<text transform="translate(1095.74 531.73) scale(1 1.05)" font-size="12.22" text-anchor="end">1000</text>
<text transform="translate(1095.74 490.97) scale(1 1.05)" font-size="12.22" text-anchor="end">2000</text>
<path d="M1104.3 567.9h-4.28M1104.3 527.14h-4.28M1104.3 486.39h-4.28" stroke="#000" stroke-width="0.98" fill="none"/>
<text transform="translate(1057.5 520.25) rotate(-90) scale(1 1.05)" font-size="12.22" text-anchor="middle">bin counts</text>
<rect x="1414.2" y="478.65" width="120.7" height="39" rx="2.4" fill="#fff" fill-opacity="0.8" stroke="#ccc" stroke-opacity="0.8" stroke-width="1.22"/>
<rect x="1419.09" y="483.87" width="24.44" height="8.56" fill="#808080" fill-opacity="0.5" stroke="#000" stroke-opacity="0.5" stroke-width="1.22"/>
<text transform="translate(1452.81 492.55) scale(1 1.05)" font-size="12.22" text-anchor="start">uncalibrated</text>
<rect x="1419.09" y="501.87" width="24.44" height="8.56" fill="#0000ff" fill-opacity="0.5" stroke="#000" stroke-opacity="0.5" stroke-width="1.22"/>
<text transform="translate(1452.81 510.55) scale(1 1.05)" font-size="12.22" text-anchor="start">calibrated</text>
<clipPath id="cs2"><rect x="1104.3" y="587.45" width="436.6" height="210"/></clipPath>
<g clip-path="url(#cs2)">
<path d="M1124.15 787.9L1521.05 597" stroke="#ff0000" stroke-opacity="0.6" stroke-width="1.83" stroke-dasharray="6.78 2.93" fill="none"/>
<path d="M1137.38 753.38L1507.82 703.25" stroke="#808080" stroke-opacity="0.5" stroke-width="1.83" fill="none"/>
<path d="M1198.9 753.38L1293.03 703.25" stroke="#0000ff" stroke-opacity="0.5" stroke-width="1.83" fill="none"/>
<circle cx="1137.38" cy="744.17" r="3.67" fill="#808080" fill-opacity="0.5" stroke="#808080" stroke-opacity="0.5" stroke-width="1.22"/>
<circle cx="1163.84" cy="745.79" r="3.67" fill="#808080" fill-opacity="0.5" stroke="#808080" stroke-opacity="0.5" stroke-width="1.22"/>
<circle cx="1190.3" cy="744.17" r="3.67" fill="#808080" fill-opacity="0.5" stroke="#808080" stroke-opacity="0.5" stroke-width="1.22"/>
<circle cx="1216.76" cy="743.08" r="3.67" fill="#808080" fill-opacity="0.5" stroke="#808080" stroke-opacity="0.5" stroke-width="1.22"/>
<circle cx="1243.22" cy="741.46" r="3.67" fill="#808080" fill-opacity="0.5" stroke="#808080" stroke-opacity="0.5" stroke-width="1.22"/>
<circle cx="1269.68" cy="739.82" r="3.67" fill="#808080" fill-opacity="0.5" stroke="#808080" stroke-opacity="0.5" stroke-width="1.22"/>
<circle cx="1296.14" cy="735.23" r="3.67" fill="#808080" fill-opacity="0.5" stroke="#808080" stroke-opacity="0.5" stroke-width="1.22"/>
<circle cx="1322.6" cy="723.03" r="3.67" fill="#808080" fill-opacity="0.5" stroke="#808080" stroke-opacity="0.5" stroke-width="1.22"/>
<circle cx="1349.06" cy="720.04" r="3.67" fill="#808080" fill-opacity="0.5" stroke="#808080" stroke-opacity="0.5" stroke-width="1.22"/>
<circle cx="1375.52" cy="712.73" r="3.67" fill="#808080" fill-opacity="0.5" stroke="#808080" stroke-opacity="0.5" stroke-width="1.22"/>
<circle cx="1401.98" cy="708.67" r="3.67" fill="#808080" fill-opacity="0.5" stroke="#808080" stroke-opacity="0.5" stroke-width="1.22"/>
<circle cx="1428.44" cy="691.31" r="3.67" fill="#808080" fill-opacity="0.5" stroke="#808080" stroke-opacity="0.5" stroke-width="1.22"/>
<circle cx="1454.9" cy="704.6" r="3.67" fill="#fff" fill-opacity="0.6" stroke="#808080" stroke-opacity="0.5" stroke-width="1.22"/>
<circle cx="1481.36" cy="708.38" r="3.67" fill="#fff" fill-opacity="0.6" stroke="#808080" stroke-opacity="0.5" stroke-width="1.22"/>
<circle cx="1507.82" cy="684.55" r="3.67" fill="#fff" fill-opacity="0.6" stroke="#808080" stroke-opacity="0.5" stroke-width="1.22"/>
<circle cx="1198.9" cy="744.17" r="3.67" fill="#0000ff" fill-opacity="0.8" stroke="#0000ff" stroke-opacity="0.8" stroke-width="1.22"/>
<circle cx="1205.62" cy="745.79" r="3.67" fill="#0000ff" fill-opacity="0.8" stroke="#0000ff" stroke-opacity="0.8" stroke-width="1.22"/>
<circle cx="1212.35" cy="744.17" r="3.67" fill="#0000ff" fill-opacity="0.8" stroke="#0000ff" stroke-opacity="0.8" stroke-width="1.22"/>
<circle cx="1219.07" cy="743.08" r="3.67" fill="#0000ff" fill-opacity="0.8" stroke="#0000ff" stroke-opacity="0.8" stroke-width="1.22"/>
<circle cx="1225.8" cy="741.46" r="3.67" fill="#0000ff" fill-opacity="0.8" stroke="#0000ff" stroke-opacity="0.8" stroke-width="1.22"/>
<circle cx="1232.52" cy="739.82" r="3.67" fill="#0000ff" fill-opacity="0.8" stroke="#0000ff" stroke-opacity="0.8" stroke-width="1.22"/>
<circle cx="1239.24" cy="735.23" r="3.67" fill="#0000ff" fill-opacity="0.8" stroke="#0000ff" stroke-opacity="0.8" stroke-width="1.22"/>
<circle cx="1245.97" cy="723.03" r="3.67" fill="#0000ff" fill-opacity="0.8" stroke="#0000ff" stroke-opacity="0.8" stroke-width="1.22"/>
<circle cx="1252.69" cy="720.04" r="3.67" fill="#0000ff" fill-opacity="0.8" stroke="#0000ff" stroke-opacity="0.8" stroke-width="1.22"/>
<circle cx="1259.41" cy="712.73" r="3.67" fill="#0000ff" fill-opacity="0.8" stroke="#0000ff" stroke-opacity="0.8" stroke-width="1.22"/>
<circle cx="1266.14" cy="708.67" r="3.67" fill="#0000ff" fill-opacity="0.8" stroke="#0000ff" stroke-opacity="0.8" stroke-width="1.22"/>
<circle cx="1272.86" cy="691.31" r="3.67" fill="#0000ff" fill-opacity="0.8" stroke="#0000ff" stroke-opacity="0.8" stroke-width="1.22"/>
<circle cx="1279.59" cy="704.6" r="3.67" fill="#fff" fill-opacity="0.8" stroke="#0000ff" stroke-opacity="0.8" stroke-width="1.22"/>
<circle cx="1286.31" cy="708.38" r="3.67" fill="#fff" fill-opacity="0.8" stroke="#0000ff" stroke-opacity="0.8" stroke-width="1.22"/>
<circle cx="1293.03" cy="684.55" r="3.67" fill="#fff" fill-opacity="0.8" stroke="#0000ff" stroke-opacity="0.8" stroke-width="1.22"/>
</g>
<rect x="1104.3" y="587.45" width="436.6" height="210" fill="none" stroke="#000" stroke-width="0.98"/>
<text transform="translate(1143.53 815.29) scale(1 1.05)" font-size="12.22" text-anchor="middle">0.2</text>
<text transform="translate(1192.97 815.29) scale(1 1.05)" font-size="12.22" text-anchor="middle">0.3</text>
<text transform="translate(1242.41 815.29) scale(1 1.05)" font-size="12.22" text-anchor="middle">0.4</text>
<text transform="translate(1291.85 815.29) scale(1 1.05)" font-size="12.22" text-anchor="middle">0.5</text>
<text transform="translate(1341.29 815.29) scale(1 1.05)" font-size="12.22" text-anchor="middle">0.6</text>
<text transform="translate(1390.73 815.29) scale(1 1.05)" font-size="12.22" text-anchor="middle">0.7</text>
<text transform="translate(1440.17 815.29) scale(1 1.05)" font-size="12.22" text-anchor="middle">0.8</text>
<text transform="translate(1489.61 815.29) scale(1 1.05)" font-size="12.22" text-anchor="middle">0.9</text>
<text transform="translate(1539.05 815.29) scale(1 1.05)" font-size="12.22" text-anchor="middle">1.0</text>
<path d="M1143.53 797.45v4.28M1192.97 797.45v4.28M1242.41 797.45v4.28M1291.85 797.45v4.28M1341.29 797.45v4.28M1390.73 797.45v4.28M1440.17 797.45v4.28M1489.61 797.45v4.28M1539.05 797.45v4.28" stroke="#000" stroke-width="0.98" fill="none"/>
<text transform="translate(1095.74 783.17) scale(1 1.05)" font-size="12.22" text-anchor="end">0.2</text>
<text transform="translate(1095.74 735.61) scale(1 1.05)" font-size="12.22" text-anchor="end">0.4</text>
<text transform="translate(1095.74 688.04) scale(1 1.05)" font-size="12.22" text-anchor="end">0.6</text>
<text transform="translate(1095.74 640.48) scale(1 1.05)" font-size="12.22" text-anchor="end">0.8</text>
<text transform="translate(1095.74 592.92) scale(1 1.05)" font-size="12.22" text-anchor="end">1.0</text>
<path d="M1104.3 778.58h-4.28M1104.3 731.02h-4.28M1104.3 683.46h-4.28M1104.3 635.9h-4.28M1104.3 588.34h-4.28" stroke="#000" stroke-width="0.98" fill="none"/>
<text transform="translate(1318.3 832.3) scale(1 1.05)" font-size="12.22" font-style="italic">σ</text>
<text transform="translate(1323.19 831.57) scale(1 1.05)" font-size="12.22" text-anchor="middle">ˆ</text>
<text transform="translate(1068 692.45) rotate(-90) scale(1 1.05)" font-size="12.22" text-anchor="middle">RMS residuals</text>
<rect x="1110.3" y="593.5" width="192.6" height="57" rx="2.4" fill="#fff" fill-opacity="0.8" stroke="#ccc" stroke-opacity="0.8" stroke-width="1.22"/>
<path d="M1115.19 603h24.44" stroke="#ff0000" stroke-opacity="0.6" stroke-width="1.83" stroke-dasharray="6.78 2.93" fill="none"/>
<text transform="translate(1148.91 607.4) scale(1 1.05)" font-size="12.22" text-anchor="start">identity function</text>
<path d="M1115.19 621h24.44" stroke="#808080" stroke-opacity="0.5" stroke-width="1.83" stroke-linecap="square" fill="none"/>
<text transform="translate(1148.91 625.4) scale(1 1.05)" font-size="12.22" text-anchor="start">fitted line (uncalibrated)</text>
<path d="M1115.19 639h24.44" stroke="#0000ff" stroke-opacity="0.5" stroke-width="1.83" stroke-linecap="square" fill="none"/>
<text transform="translate(1148.91 643.4) scale(1 1.05)" font-size="12.22" text-anchor="start">fitted line (calibrated)</text>
<text x="1070.5" y="452" font-size="46.5" text-anchor="start" class="ser">g)</text>
</g>
<g id="bot3">
<clipPath id="ch3"><rect x="1628.1" y="472.6" width="436.5" height="95.3"/></clipPath>
<g clip-path="url(#ch3)">
<g fill="#808080" fill-opacity="0.5" stroke="#000" stroke-opacity="0.56" stroke-width="1.22">
<rect x="1647.94" y="567.52" width="26.45" height="0.38"/>
<rect x="1674.4" y="564.45" width="26.45" height="3.45"/>
<rect x="1700.85" y="553.23" width="26.45" height="14.67"/>
<rect x="1727.3" y="529.66" width="26.45" height="38.24"/>
<rect x="1753.76" y="497.38" width="26.45" height="70.52"/>
<rect x="1780.21" y="477.14" width="26.45" height="90.76"/>
<rect x="1806.67" y="489.05" width="26.45" height="78.85"/>
<rect x="1833.12" y="513.8" width="26.45" height="54.1"/>
<rect x="1859.58" y="538.68" width="26.45" height="29.22"/>
<rect x="1886.03" y="548.85" width="26.45" height="19.05"/>
<rect x="1912.49" y="555.86" width="26.45" height="12.04"/>
<rect x="1938.94" y="562.33" width="26.45" height="5.57"/>
<rect x="1965.4" y="565.9" width="26.45" height="2"/>
<rect x="1991.85" y="567.35" width="26.45" height="0.55"/>
<rect x="2018.3" y="567.64" width="26.45" height="0.26"/>
</g>
<g fill="#0000ff" fill-opacity="0.5" stroke="#000" stroke-opacity="0.56" stroke-width="1.22">
<rect x="1784.13" y="567.52" width="4.59" height="0.38"/>
<rect x="1788.71" y="564.45" width="4.59" height="3.45"/>
<rect x="1793.3" y="553.23" width="4.59" height="14.67"/>
<rect x="1797.89" y="529.66" width="4.59" height="38.24"/>
<rect x="1802.48" y="497.38" width="4.59" height="70.52"/>
<rect x="1807.07" y="477.14" width="4.59" height="90.76"/>
<rect x="1811.66" y="489.05" width="4.59" height="78.85"/>
<rect x="1816.25" y="513.8" width="4.59" height="54.1"/>
<rect x="1820.84" y="538.68" width="4.59" height="29.22"/>
<rect x="1825.43" y="548.85" width="4.59" height="19.05"/>
<rect x="1830.01" y="555.86" width="4.59" height="12.04"/>
<rect x="1834.6" y="562.33" width="4.59" height="5.57"/>
<rect x="1839.19" y="565.9" width="4.59" height="2"/>
<rect x="1843.78" y="567.35" width="4.59" height="0.55"/>
<rect x="1848.37" y="567.64" width="4.59" height="0.26"/>
</g>
</g>
<rect x="1628.1" y="472.6" width="436.5" height="95.3" fill="none" stroke="#000" stroke-width="0.98"/>
<text transform="translate(1619.54 572.48) scale(1 1.05)" font-size="12.22" text-anchor="end">0</text>
<text transform="translate(1619.54 529.95) scale(1 1.05)" font-size="12.22" text-anchor="end">1000</text>
<text transform="translate(1619.54 487.42) scale(1 1.05)" font-size="12.22" text-anchor="end">2000</text>
<path d="M1628.1 567.9h-4.28M1628.1 525.37h-4.28M1628.1 482.84h-4.28" stroke="#000" stroke-width="0.98" fill="none"/>
<text transform="translate(1580.1 520.25) rotate(-90) scale(1 1.05)" font-size="12.22" text-anchor="middle">bin counts</text>
<rect x="1937.9" y="478.65" width="120.7" height="39" rx="2.4" fill="#fff" fill-opacity="0.8" stroke="#ccc" stroke-opacity="0.8" stroke-width="1.22"/>
<rect x="1942.79" y="483.87" width="24.44" height="8.56" fill="#808080" fill-opacity="0.5" stroke="#000" stroke-opacity="0.5" stroke-width="1.22"/>
<text transform="translate(1976.51 492.55) scale(1 1.05)" font-size="12.22" text-anchor="start">uncalibrated</text>
<rect x="1942.79" y="501.87" width="24.44" height="8.56" fill="#0000ff" fill-opacity="0.5" stroke="#000" stroke-opacity="0.5" stroke-width="1.22"/>
<text transform="translate(1976.51 510.55) scale(1 1.05)" font-size="12.22" text-anchor="start">calibrated</text>
<clipPath id="cs3"><rect x="1628.1" y="587.45" width="436.5" height="210"/></clipPath>
<g clip-path="url(#cs3)">
<path d="M1647.94 787.9L2044.76 597" stroke="#ff0000" stroke-opacity="0.6" stroke-width="1.83" stroke-dasharray="6.78 2.93" fill="none"/>
<path d="M1661.17 713.66L2031.53 698.27" stroke="#808080" stroke-opacity="0.5" stroke-width="1.83" fill="none"/>
<path d="M1786.42 713.66L1850.66 698.27" stroke="#0000ff" stroke-opacity="0.5" stroke-width="1.83" fill="none"/>
<circle cx="1661.17" cy="740.42" r="3.67" fill="#fff" fill-opacity="0.6" stroke="#808080" stroke-opacity="0.5" stroke-width="1.22"/>
<circle cx="1687.62" cy="712.87" r="3.67" fill="#808080" fill-opacity="0.5" stroke="#808080" stroke-opacity="0.5" stroke-width="1.22"/>
<circle cx="1714.08" cy="713.41" r="3.67" fill="#808080" fill-opacity="0.5" stroke="#808080" stroke-opacity="0.5" stroke-width="1.22"/>
<circle cx="1740.53" cy="710.97" r="3.67" fill="#808080" fill-opacity="0.5" stroke="#808080" stroke-opacity="0.5" stroke-width="1.22"/>
<circle cx="1766.99" cy="708.8" r="3.67" fill="#808080" fill-opacity="0.5" stroke="#808080" stroke-opacity="0.5" stroke-width="1.22"/>
<circle cx="1793.44" cy="704.76" r="3.67" fill="#808080" fill-opacity="0.5" stroke="#808080" stroke-opacity="0.5" stroke-width="1.22"/>
<circle cx="1819.9" cy="709.9" r="3.67" fill="#808080" fill-opacity="0.5" stroke="#808080" stroke-opacity="0.5" stroke-width="1.22"/>
<circle cx="1846.35" cy="709.08" r="3.67" fill="#808080" fill-opacity="0.5" stroke="#808080" stroke-opacity="0.5" stroke-width="1.22"/>
<circle cx="1872.8" cy="702.88" r="3.67" fill="#808080" fill-opacity="0.5" stroke="#808080" stroke-opacity="0.5" stroke-width="1.22"/>
<circle cx="1899.26" cy="705.57" r="3.67" fill="#808080" fill-opacity="0.5" stroke="#808080" stroke-opacity="0.5" stroke-width="1.22"/>
<circle cx="1925.71" cy="714.76" r="3.67" fill="#808080" fill-opacity="0.5" stroke="#808080" stroke-opacity="0.5" stroke-width="1.22"/>
<circle cx="1952.17" cy="706.39" r="3.67" fill="#808080" fill-opacity="0.5" stroke="#808080" stroke-opacity="0.5" stroke-width="1.22"/>
<circle cx="1978.62" cy="673.96" r="3.67" fill="#808080" fill-opacity="0.5" stroke="#808080" stroke-opacity="0.5" stroke-width="1.22"/>
<circle cx="2005.08" cy="666.94" r="3.67" fill="#fff" fill-opacity="0.6" stroke="#808080" stroke-opacity="0.5" stroke-width="1.22"/>
<circle cx="2031.53" cy="616.17" r="3.67" fill="#fff" fill-opacity="0.6" stroke="#808080" stroke-opacity="0.5" stroke-width="1.22"/>
<circle cx="1786.42" cy="740.42" r="3.67" fill="#fff" fill-opacity="0.8" stroke="#0000ff" stroke-opacity="0.8" stroke-width="1.22"/>
<circle cx="1791.01" cy="712.87" r="3.67" fill="#0000ff" fill-opacity="0.8" stroke="#0000ff" stroke-opacity="0.8" stroke-width="1.22"/>
<circle cx="1795.6" cy="713.41" r="3.67" fill="#0000ff" fill-opacity="0.8" stroke="#0000ff" stroke-opacity="0.8" stroke-width="1.22"/>
<circle cx="1800.19" cy="710.97" r="3.67" fill="#0000ff" fill-opacity="0.8" stroke="#0000ff" stroke-opacity="0.8" stroke-width="1.22"/>
<circle cx="1804.78" cy="708.8" r="3.67" fill="#0000ff" fill-opacity="0.8" stroke="#0000ff" stroke-opacity="0.8" stroke-width="1.22"/>
<circle cx="1809.36" cy="704.76" r="3.67" fill="#0000ff" fill-opacity="0.8" stroke="#0000ff" stroke-opacity="0.8" stroke-width="1.22"/>
<circle cx="1813.95" cy="709.9" r="3.67" fill="#0000ff" fill-opacity="0.8" stroke="#0000ff" stroke-opacity="0.8" stroke-width="1.22"/>
<circle cx="1818.54" cy="709.08" r="3.67" fill="#0000ff" fill-opacity="0.8" stroke="#0000ff" stroke-opacity="0.8" stroke-width="1.22"/>
<circle cx="1823.13" cy="702.88" r="3.67" fill="#0000ff" fill-opacity="0.8" stroke="#0000ff" stroke-opacity="0.8" stroke-width="1.22"/>
<circle cx="1827.72" cy="705.57" r="3.67" fill="#0000ff" fill-opacity="0.8" stroke="#0000ff" stroke-opacity="0.8" stroke-width="1.22"/>
<circle cx="1832.31" cy="714.76" r="3.67" fill="#0000ff" fill-opacity="0.8" stroke="#0000ff" stroke-opacity="0.8" stroke-width="1.22"/>
<circle cx="1836.9" cy="706.39" r="3.67" fill="#0000ff" fill-opacity="0.8" stroke="#0000ff" stroke-opacity="0.8" stroke-width="1.22"/>
<circle cx="1841.49" cy="673.96" r="3.67" fill="#0000ff" fill-opacity="0.8" stroke="#0000ff" stroke-opacity="0.8" stroke-width="1.22"/>
<circle cx="1846.08" cy="666.94" r="3.67" fill="#fff" fill-opacity="0.8" stroke="#0000ff" stroke-opacity="0.8" stroke-width="1.22"/>
<circle cx="1850.66" cy="616.17" r="3.67" fill="#fff" fill-opacity="0.8" stroke="#0000ff" stroke-opacity="0.8" stroke-width="1.22"/>
</g>
<rect x="1628.1" y="587.45" width="436.5" height="210" fill="none" stroke="#000" stroke-width="0.98"/>
<text transform="translate(1660.21 815.29) scale(1 1.05)" font-size="12.22" text-anchor="middle">0.2</text>
<text transform="translate(1713.07 815.29) scale(1 1.05)" font-size="12.22" text-anchor="middle">0.3</text>
<text transform="translate(1765.94 815.29) scale(1 1.05)" font-size="12.22" text-anchor="middle">0.4</text>
<text transform="translate(1818.81 815.29) scale(1 1.05)" font-size="12.22" text-anchor="middle">0.5</text>
<text transform="translate(1871.67 815.29) scale(1 1.05)" font-size="12.22" text-anchor="middle">0.6</text>
<text transform="translate(1924.54 815.29) scale(1 1.05)" font-size="12.22" text-anchor="middle">0.7</text>
<text transform="translate(1977.41 815.29) scale(1 1.05)" font-size="12.22" text-anchor="middle">0.8</text>
<text transform="translate(2030.27 815.29) scale(1 1.05)" font-size="12.22" text-anchor="middle">0.9</text>
<path d="M1660.21 797.45v4.28M1713.07 797.45v4.28M1765.94 797.45v4.28M1818.81 797.45v4.28M1871.67 797.45v4.28M1924.54 797.45v4.28M1977.41 797.45v4.28M2030.27 797.45v4.28" stroke="#000" stroke-width="0.98" fill="none"/>
<text transform="translate(1619.54 786.59) scale(1 1.05)" font-size="12.22" text-anchor="end">0.2</text>
<text transform="translate(1619.54 735.72) scale(1 1.05)" font-size="12.22" text-anchor="end">0.4</text>
<text transform="translate(1619.54 684.85) scale(1 1.05)" font-size="12.22" text-anchor="end">0.6</text>
<text transform="translate(1619.54 633.98) scale(1 1.05)" font-size="12.22" text-anchor="end">0.8</text>
<path d="M1628.1 782h-4.28M1628.1 731.14h-4.28M1628.1 680.27h-4.28M1628.1 629.4h-4.28" stroke="#000" stroke-width="0.98" fill="none"/>
<text transform="translate(1842.05 832.3) scale(1 1.05)" font-size="12.22" font-style="italic">σ</text>
<text transform="translate(1846.94 831.57) scale(1 1.05)" font-size="12.22" text-anchor="middle">ˆ</text>
<text transform="translate(1590.2 692.45) rotate(-90) scale(1 1.05)" font-size="12.22" text-anchor="middle">RMS residuals</text>
<rect x="1634.1" y="593.5" width="192.6" height="57" rx="2.4" fill="#fff" fill-opacity="0.8" stroke="#ccc" stroke-opacity="0.8" stroke-width="1.22"/>
<path d="M1638.99 603h24.44" stroke="#ff0000" stroke-opacity="0.6" stroke-width="1.83" stroke-dasharray="6.78 2.93" fill="none"/>
<text transform="translate(1672.71 607.4) scale(1 1.05)" font-size="12.22" text-anchor="start">identity function</text>
<path d="M1638.99 621h24.44" stroke="#808080" stroke-opacity="0.5" stroke-width="1.83" stroke-linecap="square" fill="none"/>
<text transform="translate(1672.71 625.4) scale(1 1.05)" font-size="12.22" text-anchor="start">fitted line (uncalibrated)</text>
<path d="M1638.99 639h24.44" stroke="#0000ff" stroke-opacity="0.5" stroke-width="1.83" stroke-linecap="square" fill="none"/>
<text transform="translate(1672.71 643.4) scale(1 1.05)" font-size="12.22" text-anchor="start">fitted line (calibrated)</text>
<text x="1596" y="456.4" font-size="46.5" text-anchor="start" class="ser">h)</text>
</g>
</svg></body></html>
